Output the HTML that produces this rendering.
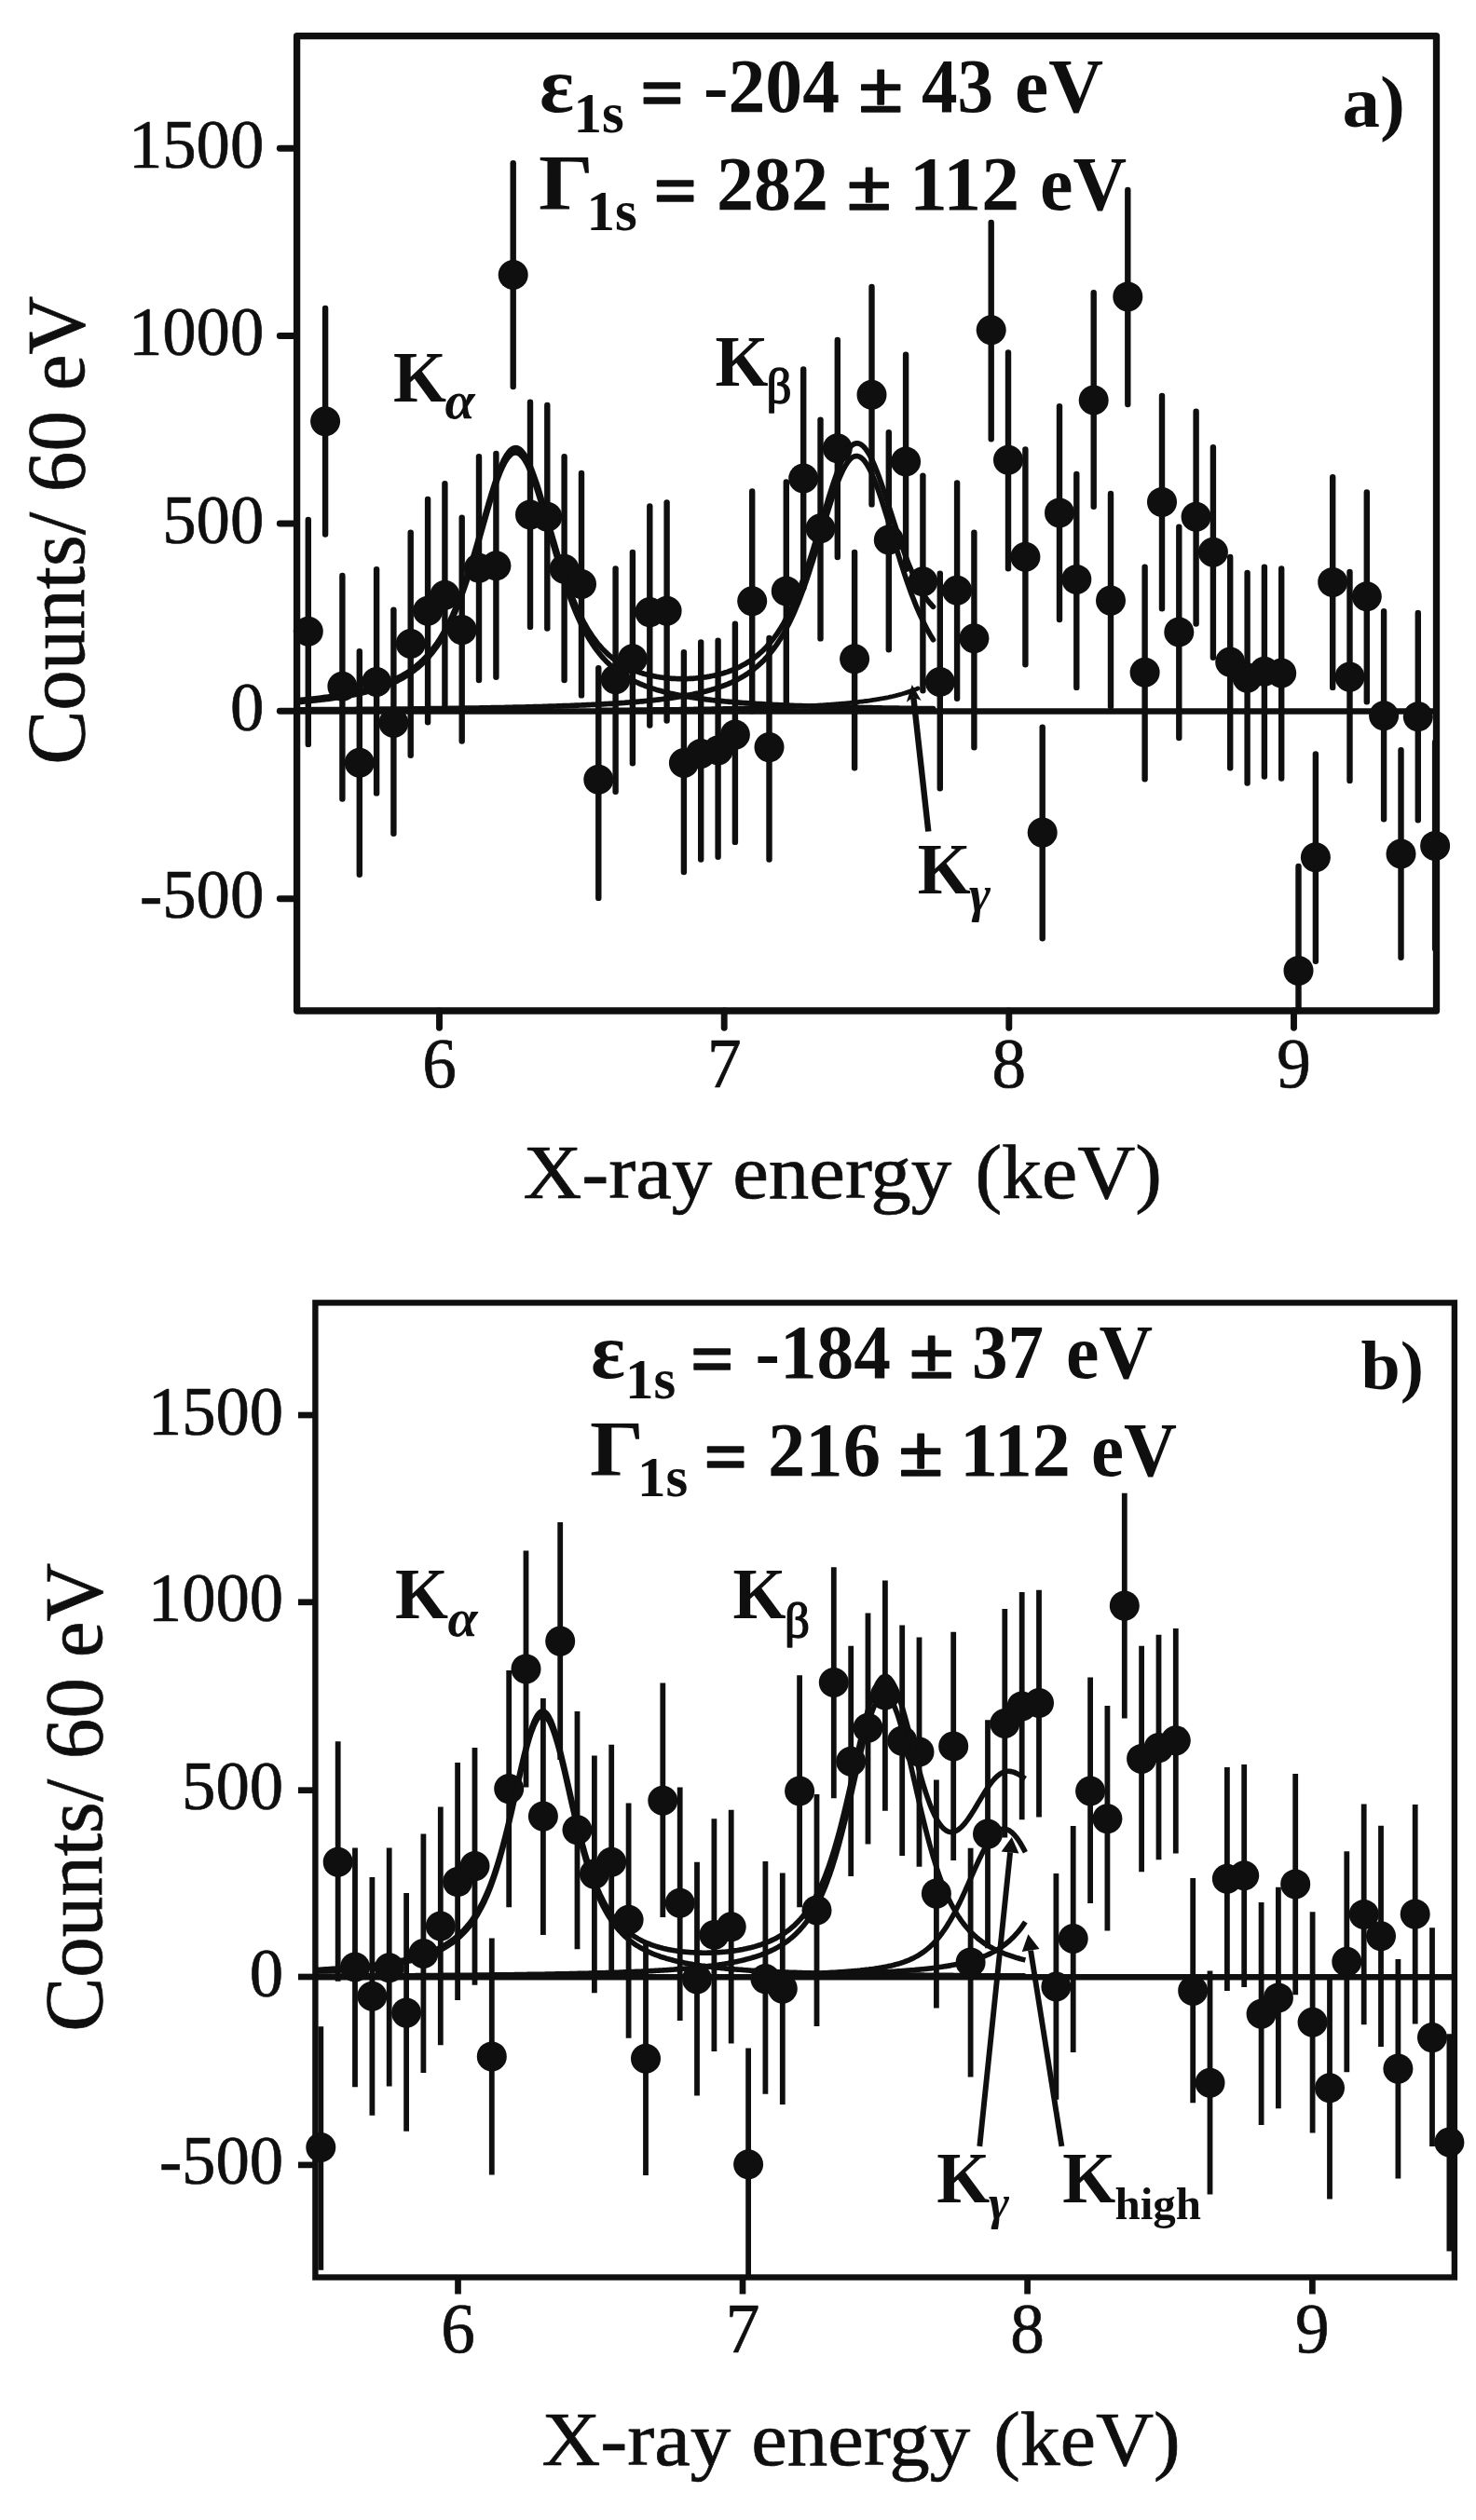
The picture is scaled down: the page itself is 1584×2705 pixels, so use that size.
<!DOCTYPE html>
<html lang="en"><head><meta charset="utf-8"><title>X-ray energy spectra</title>
<style>html,body{margin:0;padding:0;background:#fff}svg{display:block}</style></head>
<body><svg width="1584" height="2705" viewBox="0 0 1584 2705">
<rect width="1584" height="2705" fill="#fff"/>
<g fill="#0e0f0e" stroke="none" font-family="'Liberation Serif', 'DejaVu Serif', serif">
<rect x="318.6" y="38.7" width="1222.9" height="1046.3" fill="none" stroke="#0e0f0e" stroke-width="7.3" stroke-linejoin="round"/>
<rect x="338.4" y="1398.4" width="1222.5" height="1046.1" fill="none" stroke="#0e0f0e" stroke-width="6.4" stroke-linejoin="miter"/>
<g stroke="#0e0f0e" stroke-width="6.9" stroke-linecap="round">
<line x1="300.3" y1="159.2" x2="318" y2="159.2"/>
<line x1="300.3" y1="360.5" x2="318" y2="360.5"/>
<line x1="300.3" y1="562.0" x2="318" y2="562.0"/>
<line x1="300.3" y1="763.3" x2="318" y2="763.3"/>
<line x1="300.3" y1="964.8" x2="318" y2="964.8"/>
<line x1="471.5" y1="1085" x2="471.5" y2="1103.2"/>
<line x1="777.2" y1="1085" x2="777.2" y2="1103.2"/>
<line x1="1082.8" y1="1085" x2="1082.8" y2="1103.2"/>
<line x1="1388.5" y1="1085" x2="1388.5" y2="1103.2"/>
</g>
<line x1="319" y1="763.4" x2="1541" y2="763.4" stroke="#0e0f0e" stroke-width="6.5"/>
<g stroke="#0e0f0e" stroke-width="6.4" stroke-linecap="round" fill="none">
<line x1="330.8" y1="558.0" x2="330.8" y2="798.9"/>
<line x1="349.1" y1="331.0" x2="349.1" y2="573.6"/>
<line x1="367.4" y1="618.0" x2="367.4" y2="857.5"/>
<line x1="385.8" y1="699.3" x2="385.8" y2="938.8"/>
<line x1="404.1" y1="611.2" x2="404.1" y2="851.4"/>
<line x1="422.4" y1="654.6" x2="422.4" y2="894.8"/>
<line x1="440.7" y1="571.6" x2="440.7" y2="810.8"/>
<line x1="459.1" y1="536.0" x2="459.1" y2="775.2"/>
<line x1="477.4" y1="519.1" x2="477.4" y2="758.6"/>
<line x1="495.7" y1="555.6" x2="495.7" y2="795.5"/>
<line x1="514.0" y1="490.3" x2="514.0" y2="730.1"/>
<line x1="532.4" y1="486.9" x2="532.4" y2="726.7"/>
<line x1="550.7" y1="175.2" x2="550.7" y2="415.1"/>
<line x1="569.0" y1="431.7" x2="569.0" y2="672.9"/>
<line x1="587.3" y1="435.0" x2="587.3" y2="674.6"/>
<line x1="605.6" y1="490.3" x2="605.6" y2="730.1"/>
<line x1="624.0" y1="507.9" x2="624.0" y2="746.4"/>
<line x1="642.3" y1="717.2" x2="642.3" y2="963.9"/>
<line x1="660.6" y1="610.5" x2="660.6" y2="849.7"/>
<line x1="678.9" y1="592.9" x2="678.9" y2="819.2"/>
<line x1="697.3" y1="543.4" x2="697.3" y2="778.6"/>
<line x1="715.6" y1="539.4" x2="715.6" y2="773.5"/>
<line x1="733.9" y1="700.3" x2="733.9" y2="936.1"/>
<line x1="752.2" y1="689.4" x2="752.2" y2="922.5"/>
<line x1="770.6" y1="687.8" x2="770.6" y2="919.8"/>
<line x1="788.9" y1="669.8" x2="788.9" y2="903.9"/>
<line x1="807.2" y1="527.5" x2="807.2" y2="763.3"/>
<line x1="825.5" y1="685.0" x2="825.5" y2="922.5"/>
<line x1="843.8" y1="517.4" x2="843.8" y2="753.2"/>
<line x1="862.2" y1="396.4" x2="862.2" y2="631.2"/>
<line x1="880.5" y1="450.6" x2="880.5" y2="685.4"/>
<line x1="898.8" y1="364.9" x2="898.8" y2="598.0"/>
<line x1="917.1" y1="592.9" x2="917.1" y2="824.3"/>
<line x1="935.5" y1="308.0" x2="935.5" y2="541.4"/>
<line x1="953.8" y1="464.2" x2="953.8" y2="697.3"/>
<line x1="972.1" y1="380.8" x2="972.1" y2="610.9"/>
<line x1="990.4" y1="510.6" x2="990.4" y2="741.3"/>
<line x1="1008.8" y1="615.6" x2="1008.8" y2="846.3"/>
<line x1="1027.1" y1="518.4" x2="1027.1" y2="749.8"/>
<line x1="1045.4" y1="571.6" x2="1045.4" y2="802.3"/>
<line x1="1063.7" y1="238.9" x2="1063.7" y2="471.3"/>
<line x1="1082.0" y1="378.5" x2="1082.0" y2="610.2"/>
<line x1="1100.4" y1="482.5" x2="1100.4" y2="713.2"/>
<line x1="1118.7" y1="780.6" x2="1118.7" y2="1007.2"/>
<line x1="1137.0" y1="436.1" x2="1137.0" y2="665.1"/>
<line x1="1155.3" y1="508.9" x2="1155.3" y2="737.9"/>
<line x1="1173.7" y1="314.1" x2="1173.7" y2="543.8"/>
<line x1="1192.0" y1="529.9" x2="1192.0" y2="758.2"/>
<line x1="1210.3" y1="204.0" x2="1210.3" y2="434.1"/>
<line x1="1228.6" y1="608.8" x2="1228.6" y2="836.2"/>
<line x1="1247.0" y1="424.9" x2="1247.0" y2="653.2"/>
<line x1="1265.3" y1="565.8" x2="1265.3" y2="792.1"/>
<line x1="1283.6" y1="441.8" x2="1283.6" y2="669.5"/>
<line x1="1301.9" y1="480.1" x2="1301.9" y2="705.7"/>
<line x1="1320.2" y1="598.0" x2="1320.2" y2="824.3"/>
<line x1="1338.6" y1="614.9" x2="1338.6" y2="840.6"/>
<line x1="1356.9" y1="608.8" x2="1356.9" y2="833.5"/>
<line x1="1375.2" y1="610.5" x2="1375.2" y2="835.5"/>
<line x1="1393.5" y1="930.0" x2="1393.5" y2="1085.0"/>
<line x1="1411.9" y1="809.4" x2="1411.9" y2="1031.8"/>
<line x1="1430.2" y1="512.3" x2="1430.2" y2="737.9"/>
<line x1="1448.5" y1="613.9" x2="1448.5" y2="837.9"/>
<line x1="1466.8" y1="528.5" x2="1466.8" y2="753.2"/>
<line x1="1485.1" y1="656.2" x2="1485.1" y2="879.2"/>
<line x1="1503.5" y1="805.3" x2="1503.5" y2="1027.7"/>
<line x1="1521.8" y1="657.9" x2="1521.8" y2="880.2"/>
<line x1="1540.1" y1="796.8" x2="1540.1" y2="1018.3"/>
</g>
<circle cx="330.8" cy="677.8" r="16"/>
<circle cx="349.1" cy="452.2" r="16"/>
<circle cx="367.4" cy="736.7" r="16"/>
<circle cx="385.8" cy="818.7" r="16"/>
<circle cx="404.1" cy="732.0" r="16"/>
<circle cx="422.4" cy="776.0" r="16"/>
<circle cx="440.7" cy="691.0" r="16"/>
<circle cx="459.1" cy="655.8" r="16"/>
<circle cx="477.4" cy="638.8" r="16"/>
<circle cx="495.7" cy="676.1" r="16"/>
<circle cx="514.0" cy="609.7" r="16"/>
<circle cx="532.4" cy="607.3" r="16"/>
<circle cx="550.7" cy="295.0" r="16"/>
<circle cx="569.0" cy="552.4" r="16"/>
<circle cx="587.3" cy="554.8" r="16"/>
<circle cx="605.6" cy="610.7" r="16"/>
<circle cx="624.0" cy="627.0" r="16"/>
<circle cx="642.3" cy="836.7" r="16"/>
<circle cx="660.6" cy="729.3" r="16"/>
<circle cx="678.9" cy="707.2" r="16"/>
<circle cx="697.3" cy="657.1" r="16"/>
<circle cx="715.6" cy="655.8" r="16"/>
<circle cx="733.9" cy="819.0" r="16"/>
<circle cx="752.2" cy="808.9" r="16"/>
<circle cx="770.6" cy="805.5" r="16"/>
<circle cx="788.9" cy="788.6" r="16"/>
<circle cx="807.2" cy="645.3" r="16"/>
<circle cx="825.5" cy="802.1" r="16"/>
<circle cx="843.8" cy="634.4" r="16"/>
<circle cx="862.2" cy="513.5" r="16"/>
<circle cx="880.5" cy="567.3" r="16"/>
<circle cx="898.8" cy="481.3" r="16"/>
<circle cx="917.1" cy="707.2" r="16"/>
<circle cx="935.5" cy="423.7" r="16"/>
<circle cx="953.8" cy="579.5" r="16"/>
<circle cx="972.1" cy="495.5" r="16"/>
<circle cx="990.4" cy="624.3" r="16"/>
<circle cx="1008.8" cy="732.0" r="16"/>
<circle cx="1027.1" cy="633.7" r="16"/>
<circle cx="1045.4" cy="685.2" r="16"/>
<circle cx="1063.7" cy="354.3" r="16"/>
<circle cx="1082.0" cy="493.8" r="16"/>
<circle cx="1100.4" cy="597.8" r="16"/>
<circle cx="1118.7" cy="893.6" r="16"/>
<circle cx="1137.0" cy="550.4" r="16"/>
<circle cx="1155.3" cy="621.9" r="16"/>
<circle cx="1173.7" cy="429.5" r="16"/>
<circle cx="1192.0" cy="644.6" r="16"/>
<circle cx="1210.3" cy="318.4" r="16"/>
<circle cx="1228.6" cy="721.8" r="16"/>
<circle cx="1247.0" cy="538.9" r="16"/>
<circle cx="1265.3" cy="678.5" r="16"/>
<circle cx="1283.6" cy="554.8" r="16"/>
<circle cx="1301.9" cy="592.8" r="16"/>
<circle cx="1320.2" cy="710.6" r="16"/>
<circle cx="1338.6" cy="727.6" r="16"/>
<circle cx="1356.9" cy="720.8" r="16"/>
<circle cx="1375.2" cy="722.5" r="16"/>
<circle cx="1393.5" cy="1041.9" r="16"/>
<circle cx="1411.9" cy="920.3" r="16"/>
<circle cx="1430.2" cy="624.9" r="16"/>
<circle cx="1448.5" cy="726.6" r="16"/>
<circle cx="1466.8" cy="640.2" r="16"/>
<circle cx="1485.1" cy="768.2" r="16"/>
<circle cx="1503.5" cy="916.5" r="16"/>
<circle cx="1521.8" cy="769.2" r="16"/>
<circle cx="1540.1" cy="907.9" r="16"/>
<g stroke="#0e0f0e" stroke-width="6.7">
<line x1="320" y1="1519" x2="338" y2="1519"/>
<line x1="320" y1="1719.8" x2="338" y2="1719.8"/>
<line x1="320" y1="1921.7" x2="338" y2="1921.7"/>
<line x1="320" y1="2122" x2="338" y2="2122"/>
<line x1="320" y1="2323.9" x2="338" y2="2323.9"/>
<line x1="491.5" y1="2444" x2="491.5" y2="2462.5"/>
<line x1="797" y1="2444" x2="797" y2="2462.5"/>
<line x1="1102.6" y1="2444" x2="1102.6" y2="2462.5"/>
<line x1="1408.4" y1="2444" x2="1408.4" y2="2462.5"/>
</g>
<line x1="338" y1="2122.3" x2="1561" y2="2122.3" stroke="#0e0f0e" stroke-width="6.6"/>
<g stroke="#0e0f0e" stroke-width="5.8" stroke-linecap="butt" fill="none">
<line x1="344.3" y1="2175.2" x2="344.3" y2="2436.8"/>
<line x1="362.7" y1="1869.3" x2="362.7" y2="2126.8"/>
<line x1="381.0" y1="1983.5" x2="381.0" y2="2240.2"/>
<line x1="399.4" y1="2015.0" x2="399.4" y2="2270.7"/>
<line x1="417.7" y1="1983.5" x2="417.7" y2="2239.6"/>
<line x1="436.1" y1="2031.9" x2="436.1" y2="2287.7"/>
<line x1="454.4" y1="1968.6" x2="454.4" y2="2225.0"/>
<line x1="472.8" y1="1939.4" x2="472.8" y2="2195.2"/>
<line x1="491.1" y1="1892.0" x2="491.1" y2="2147.1"/>
<line x1="509.5" y1="1876.1" x2="509.5" y2="2130.8"/>
<line x1="527.8" y1="2080.4" x2="527.8" y2="2334.4"/>
<line x1="546.2" y1="1793.1" x2="546.2" y2="2047.2"/>
<line x1="564.5" y1="1664.4" x2="564.5" y2="1918.4"/>
<line x1="582.9" y1="1822.9" x2="582.9" y2="2077.0"/>
<line x1="601.2" y1="1633.9" x2="601.2" y2="1889.0"/>
<line x1="619.5" y1="1837.1" x2="619.5" y2="2092.2"/>
<line x1="637.9" y1="1884.6" x2="637.9" y2="2139.3"/>
<line x1="656.2" y1="1872.7" x2="656.2" y2="2125.1"/>
<line x1="674.6" y1="1935.4" x2="674.6" y2="2187.7"/>
<line x1="693.0" y1="2084.4" x2="693.0" y2="2335.1"/>
<line x1="711.3" y1="1806.6" x2="711.3" y2="2058.0"/>
<line x1="729.7" y1="1918.4" x2="729.7" y2="2169.1"/>
<line x1="748.0" y1="1998.7" x2="748.0" y2="2249.4"/>
<line x1="766.4" y1="1952.3" x2="766.4" y2="2202.0"/>
<line x1="784.7" y1="1942.8" x2="784.7" y2="2193.5"/>
<line x1="803.1" y1="2198.6" x2="803.1" y2="2444.2"/>
<line x1="821.4" y1="1998.0" x2="821.4" y2="2247.7"/>
<line x1="839.8" y1="2010.6" x2="839.8" y2="2258.9"/>
<line x1="858.1" y1="1798.2" x2="858.1" y2="2047.2"/>
<line x1="876.5" y1="1925.9" x2="876.5" y2="2174.9"/>
<line x1="894.8" y1="1682.3" x2="894.8" y2="1930.3"/>
<line x1="913.2" y1="1766.7" x2="913.2" y2="2014.0"/>
<line x1="931.5" y1="1731.4" x2="931.5" y2="1979.4"/>
<line x1="949.9" y1="1696.5" x2="949.9" y2="1943.8"/>
<line x1="968.2" y1="1744.6" x2="968.2" y2="1991.9"/>
<line x1="986.5" y1="1757.5" x2="986.5" y2="2003.8"/>
<line x1="1004.9" y1="1910.6" x2="1004.9" y2="2155.6"/>
<line x1="1023.2" y1="1751.8" x2="1023.2" y2="1997.0"/>
<line x1="1041.6" y1="1983.8" x2="1041.6" y2="2229.4"/>
<line x1="1060.0" y1="1846.3" x2="1060.0" y2="2091.2"/>
<line x1="1078.3" y1="1727.0" x2="1078.3" y2="1972.6"/>
<line x1="1096.7" y1="1709.1" x2="1096.7" y2="1953.3"/>
<line x1="1115.0" y1="1706.7" x2="1115.0" y2="1950.6"/>
<line x1="1133.4" y1="2010.9" x2="1133.4" y2="2253.8"/>
<line x1="1151.7" y1="1960.1" x2="1151.7" y2="2203.0"/>
<line x1="1170.1" y1="1800.5" x2="1170.1" y2="2043.1"/>
<line x1="1188.4" y1="1831.0" x2="1188.4" y2="2072.6"/>
<line x1="1206.8" y1="1602.7" x2="1206.8" y2="1844.6"/>
<line x1="1225.1" y1="1766.7" x2="1225.1" y2="2009.2"/>
<line x1="1243.5" y1="1754.8" x2="1243.5" y2="1996.3"/>
<line x1="1261.8" y1="1748.0" x2="1261.8" y2="1989.6"/>
<line x1="1280.2" y1="2016.0" x2="1280.2" y2="2257.2"/>
<line x1="1298.5" y1="2115.6" x2="1298.5" y2="2355.4"/>
<line x1="1316.9" y1="1897.1" x2="1316.9" y2="2136.9"/>
<line x1="1335.2" y1="1894.0" x2="1335.2" y2="2132.9"/>
<line x1="1353.6" y1="2042.1" x2="1353.6" y2="2280.9"/>
<line x1="1371.9" y1="2025.8" x2="1371.9" y2="2263.3"/>
<line x1="1390.2" y1="1903.9" x2="1390.2" y2="2141.3"/>
<line x1="1408.6" y1="2052.2" x2="1408.6" y2="2289.4"/>
<line x1="1427.0" y1="2123.4" x2="1427.0" y2="2360.5"/>
<line x1="1445.3" y1="1987.2" x2="1445.3" y2="2224.3"/>
<line x1="1463.7" y1="1936.4" x2="1463.7" y2="2173.2"/>
<line x1="1482.0" y1="1959.8" x2="1482.0" y2="2196.9"/>
<line x1="1500.4" y1="2103.0" x2="1500.4" y2="2338.5"/>
<line x1="1518.7" y1="1937.1" x2="1518.7" y2="2172.5"/>
<line x1="1537.0" y1="2069.2" x2="1537.0" y2="2303.9"/>
<line x1="1555.4" y1="2183.3" x2="1555.4" y2="2416.6"/>
</g>
<circle cx="344.3" cy="2305.0" r="16"/>
<circle cx="362.7" cy="1998.7" r="16"/>
<circle cx="381.0" cy="2111.5" r="16"/>
<circle cx="399.4" cy="2142.7" r="16"/>
<circle cx="417.7" cy="2112.2" r="16"/>
<circle cx="436.1" cy="2160.6" r="16"/>
<circle cx="454.4" cy="2097.0" r="16"/>
<circle cx="472.8" cy="2067.5" r="16"/>
<circle cx="491.1" cy="2020.1" r="16"/>
<circle cx="509.5" cy="2003.1" r="16"/>
<circle cx="527.8" cy="2207.4" r="16"/>
<circle cx="546.2" cy="1920.1" r="16"/>
<circle cx="564.5" cy="1791.4" r="16"/>
<circle cx="582.9" cy="1949.6" r="16"/>
<circle cx="601.2" cy="1761.6" r="16"/>
<circle cx="619.5" cy="1964.2" r="16"/>
<circle cx="637.9" cy="2011.6" r="16"/>
<circle cx="656.2" cy="1998.7" r="16"/>
<circle cx="674.6" cy="2060.7" r="16"/>
<circle cx="693.0" cy="2209.8" r="16"/>
<circle cx="711.3" cy="1932.7" r="16"/>
<circle cx="729.7" cy="2042.8" r="16"/>
<circle cx="748.0" cy="2124.4" r="16"/>
<circle cx="766.4" cy="2077.0" r="16"/>
<circle cx="784.7" cy="2068.2" r="16"/>
<circle cx="803.1" cy="2323.2" r="16"/>
<circle cx="821.4" cy="2124.1" r="16"/>
<circle cx="839.8" cy="2134.6" r="16"/>
<circle cx="858.1" cy="1922.5" r="16"/>
<circle cx="876.5" cy="2050.5" r="16"/>
<circle cx="894.8" cy="1806.0" r="16"/>
<circle cx="913.2" cy="1890.7" r="16"/>
<circle cx="931.5" cy="1854.7" r="16"/>
<circle cx="949.9" cy="1819.5" r="16"/>
<circle cx="968.2" cy="1868.6" r="16"/>
<circle cx="986.5" cy="1880.5" r="16"/>
<circle cx="1004.9" cy="2032.6" r="16"/>
<circle cx="1023.2" cy="1874.4" r="16"/>
<circle cx="1041.6" cy="2106.4" r="16"/>
<circle cx="1060.0" cy="1968.6" r="16"/>
<circle cx="1078.3" cy="1850.0" r="16"/>
<circle cx="1096.7" cy="1831.4" r="16"/>
<circle cx="1115.0" cy="1828.0" r="16"/>
<circle cx="1133.4" cy="2132.5" r="16"/>
<circle cx="1151.7" cy="2081.0" r="16"/>
<circle cx="1170.1" cy="1922.5" r="16"/>
<circle cx="1188.4" cy="1952.3" r="16"/>
<circle cx="1206.8" cy="1723.6" r="16"/>
<circle cx="1225.1" cy="1887.9" r="16"/>
<circle cx="1243.5" cy="1876.1" r="16"/>
<circle cx="1261.8" cy="1868.3" r="16"/>
<circle cx="1280.2" cy="2136.9" r="16"/>
<circle cx="1298.5" cy="2235.8" r="16"/>
<circle cx="1316.9" cy="2016.7" r="16"/>
<circle cx="1335.2" cy="2013.3" r="16"/>
<circle cx="1353.6" cy="2161.7" r="16"/>
<circle cx="1371.9" cy="2144.4" r="16"/>
<circle cx="1390.2" cy="2022.4" r="16"/>
<circle cx="1408.6" cy="2170.8" r="16"/>
<circle cx="1427.0" cy="2241.3" r="16"/>
<circle cx="1445.3" cy="2105.8" r="16"/>
<circle cx="1463.7" cy="2054.9" r="16"/>
<circle cx="1482.0" cy="2078.3" r="16"/>
<circle cx="1500.4" cy="2220.6" r="16"/>
<circle cx="1518.7" cy="2054.6" r="16"/>
<circle cx="1537.0" cy="2187.1" r="16"/>
<circle cx="1555.4" cy="2299.5" r="16"/>
<g stroke="#0e0f0e" stroke-width="5.7" fill="none" stroke-linecap="round" stroke-linejoin="round">
<path d="M319.0,751.7 L320.5,751.5 L322.0,751.4 L323.5,751.3 L325.0,751.1 L326.5,751.0 L328.0,750.8 L329.5,750.7 L331.0,750.5 L332.5,750.4 L334.0,750.2 L335.5,750.0 L337.0,749.9 L338.5,749.7 L340.0,749.5 L341.5,749.4 L343.0,749.2 L344.5,749.0 L346.0,748.8 L347.5,748.6 L349.0,748.4 L350.5,748.2 L352.0,748.0 L353.5,747.8 L355.0,747.6 L356.5,747.4 L358.0,747.2 L359.5,746.9 L361.0,746.7 L362.5,746.5 L364.0,746.2 L365.5,746.0 L367.0,745.7 L368.5,745.5 L370.0,745.2 L371.5,744.9 L373.0,744.6 L374.5,744.4 L376.0,744.1 L377.5,743.8 L379.0,743.5 L380.5,743.2 L382.0,742.8 L383.5,742.5 L385.0,742.2 L386.5,741.8 L388.0,741.5 L389.5,741.1 L391.0,740.7 L392.5,740.3 L394.0,739.9 L395.5,739.5 L397.0,739.1 L398.5,738.7 L400.0,738.2 L401.5,737.8 L403.0,737.3 L404.5,736.8 L406.0,736.3 L407.5,735.8 L409.0,735.3 L410.5,734.8 L412.0,734.2 L413.5,733.7 L415.0,733.1 L416.5,732.5 L418.0,731.8 L419.5,731.2 L421.0,730.5 L422.5,729.8 L424.0,729.1 L425.5,728.4 L427.0,727.6 L428.5,726.8 L430.0,726.0 L431.5,725.2 L433.0,724.3 L434.5,723.4 L436.0,722.5 L437.5,721.5 L439.0,720.5 L440.5,719.5 L442.0,718.4 L443.5,717.3 L445.0,716.2 L446.5,715.0 L448.0,713.7 L449.5,712.4 L451.0,711.1 L452.5,709.7 L454.0,708.3 L455.5,706.8 L457.0,705.2 L458.5,703.6 L460.0,701.9 L461.5,700.1 L463.0,698.3 L464.5,696.4 L466.0,694.5 L467.5,692.4 L469.0,690.3 L470.5,688.0 L472.0,685.7 L473.5,683.3 L475.0,680.8 L476.5,678.2 L478.0,675.5 L479.5,672.7 L481.0,669.8 L482.5,666.8 L484.0,663.6 L485.5,660.4 L487.0,657.0 L488.5,653.5 L490.0,649.9 L491.5,646.1 L493.0,642.3 L494.5,638.3 L496.0,634.1 L497.5,629.9 L499.0,625.5 L500.5,621.1 L502.0,616.5 L503.5,611.7 L505.0,606.9 L506.5,602.0 L508.0,597.0 L509.5,591.9 L511.0,586.8 L512.5,581.6 L514.0,576.3 L515.5,571.0 L517.0,565.7 L518.5,560.4 L520.0,555.1 L521.5,549.8 L523.0,544.6 L524.5,539.4 L526.0,534.3 L527.5,529.4 L529.0,524.5 L530.5,519.9 L532.0,515.3 L533.5,511.0 L535.0,506.9 L536.5,503.1 L538.0,499.4 L539.5,496.1 L541.0,493.0 L542.5,490.3 L544.0,487.9 L545.5,485.8 L547.0,484.0 L548.5,482.7 L550.0,481.6 L551.5,481.0 L553.0,480.7 L554.5,480.8 L556.0,481.3 L557.5,482.1 L559.0,483.3 L560.5,484.9 L562.0,486.8 L563.5,489.1 L565.0,491.7 L566.5,494.5 L568.0,497.7 L569.5,501.2 L571.0,504.9 L572.5,508.9 L574.0,513.1 L575.5,517.4 L577.0,522.0 L578.5,526.7 L580.0,531.6 L581.5,536.5 L583.0,541.6 L584.5,546.7 L586.0,551.9 L587.5,557.1 L589.0,562.3 L590.5,567.6 L592.0,572.8 L593.5,578.0 L595.0,583.1 L596.5,588.2 L598.0,593.2 L599.5,598.2 L601.0,603.0 L602.5,607.8 L604.0,612.4 L605.5,616.9 L607.0,621.4 L608.5,625.7 L610.0,629.9 L611.5,633.9 L613.0,637.9 L614.5,641.7 L616.0,645.4 L617.5,648.9 L619.0,652.4 L620.5,655.7 L622.0,658.9 L623.5,662.0 L625.0,664.9 L626.5,667.8 L628.0,670.5 L629.5,673.1 L631.0,675.7 L632.5,678.1 L634.0,680.4 L635.5,682.6 L637.0,684.8 L638.5,686.8 L640.0,688.8 L641.5,690.7 L643.0,692.5 L644.5,694.2 L646.0,695.9 L647.5,697.4 L649.0,699.0 L650.5,700.4 L652.0,701.8 L653.5,703.2 L655.0,704.4 L656.5,705.7 L658.0,706.9 L659.5,708.0 L661.0,709.1 L662.5,710.1 L664.0,711.1 L665.5,712.0 L667.0,713.0 L668.5,713.8 L670.0,714.7 L671.5,715.5 L673.0,716.2 L674.5,717.0 L676.0,717.7 L677.5,718.3 L679.0,719.0 L680.5,719.6 L682.0,720.2 L683.5,720.7 L685.0,721.3 L686.5,721.8 L688.0,722.3 L689.5,722.7 L691.0,723.2 L692.5,723.6 L694.0,724.0 L695.5,724.4 L697.0,724.8 L698.5,725.1 L700.0,725.4 L701.5,725.7 L703.0,726.0 L704.5,726.3 L706.0,726.5 L707.5,726.8 L709.0,727.0 L710.5,727.2 L712.0,727.4 L713.5,727.6 L715.0,727.8 L716.5,727.9 L718.0,728.0 L719.5,728.2 L721.0,728.3 L722.5,728.4 L724.0,728.4 L725.5,728.5 L727.0,728.6 L728.5,728.6 L730.0,728.6 L731.5,728.6 L733.0,728.6 L734.5,728.6 L736.0,728.6 L737.5,728.6 L739.0,728.5 L740.5,728.4 L742.0,728.4 L743.5,728.3 L745.0,728.2 L746.5,728.0 L748.0,727.9 L749.5,727.8 L751.0,727.6 L752.5,727.4 L754.0,727.2 L755.5,727.0 L757.0,726.8 L758.5,726.6 L760.0,726.3 L761.5,726.1 L763.0,725.8 L764.5,725.5 L766.0,725.2 L767.5,724.9 L769.0,724.5 L770.5,724.1 L772.0,723.8 L773.5,723.4 L775.0,722.9 L776.5,722.5 L778.0,722.0 L779.5,721.6 L781.0,721.1 L782.5,720.5 L784.0,720.0 L785.5,719.4 L787.0,718.8 L788.5,718.2 L790.0,717.5 L791.5,716.9 L793.0,716.2 L794.5,715.4 L796.0,714.6 L797.5,713.8 L799.0,713.0 L800.5,712.2 L802.0,711.2 L803.5,710.3 L805.0,709.3 L806.5,708.3 L808.0,707.2 L809.5,706.1 L811.0,705.0 L812.5,703.8 L814.0,702.5 L815.5,701.2 L817.0,699.9 L818.5,698.5 L820.0,697.0 L821.5,695.5 L823.0,693.9 L824.5,692.2 L826.0,690.5 L827.5,688.7 L829.0,686.8 L830.5,684.9 L832.0,682.9 L833.5,680.8 L835.0,678.6 L836.5,676.3 L838.0,673.9 L839.5,671.4 L841.0,668.9 L842.5,666.2 L844.0,663.5 L845.5,660.6 L847.0,657.6 L848.5,654.5 L850.0,651.3 L851.5,648.0 L853.0,644.6 L854.5,641.0 L856.0,637.4 L857.5,633.6 L859.0,629.7 L860.5,625.8 L862.0,621.6 L863.5,617.4 L865.0,613.1 L866.5,608.7 L868.0,604.2 L869.5,599.6 L871.0,594.9 L872.5,590.1 L874.0,585.2 L875.5,580.3 L877.0,575.4 L878.5,570.4 L880.0,565.3 L881.5,560.3 L883.0,555.2 L884.5,550.2 L886.0,545.2 L887.5,540.2 L889.0,535.3 L890.5,530.5 L892.0,525.8 L893.5,521.2 L895.0,516.7 L896.5,512.4 L898.0,508.2 L899.5,504.2 L901.0,500.4 L902.5,496.8 L904.0,493.5 L905.5,490.4 L907.0,487.6 L908.5,485.1 L910.0,482.8 L911.5,480.9 L913.0,479.2 L914.5,477.9 L916.0,476.9 L917.5,476.2 L919.0,475.9 L920.5,475.9 L922.0,476.2 L923.5,476.8 L925.0,477.8 L926.5,479.1 L928.0,480.7 L929.5,482.6 L931.0,484.8 L932.5,487.2 L934.0,490.0 L935.5,493.0 L937.0,496.2 L938.5,499.6 L940.0,503.3 L941.5,507.1 L943.0,511.1 L944.5,515.2 L946.0,519.5 L947.5,523.9 L949.0,528.4 L950.5,532.9 L952.0,537.5 L953.5,542.2 L955.0,546.9 L956.5,551.5 L958.0,556.2 L959.5,560.9 L961.0,565.5 L962.5,570.1 L964.0,574.6 L965.5,579.1 L967.0,583.5 L968.5,587.7 L970.0,591.9 L971.5,596.0 L973.0,600.0 L974.5,603.9 L976.0,607.6 L977.5,611.2 L979.0,614.7 L980.5,618.1 L982.0,621.3 L983.5,624.4 L985.0,627.4 L986.5,630.2 L988.0,632.9 L989.5,635.5 L991.0,637.9 L992.5,640.2 L994.0,642.3 L995.5,644.4 L997.0,646.3 L998.5,648.0 L1000.0,649.7 L1001.5,651.2"/>
<path d="M319.0,753.7 L320.5,753.6 L322.0,753.4 L323.5,753.3 L325.0,753.2 L326.5,753.0 L328.0,752.9 L329.5,752.8 L331.0,752.6 L332.5,752.5 L334.0,752.3 L335.5,752.2 L337.0,752.0 L338.5,751.9 L340.0,751.7 L341.5,751.5 L343.0,751.4 L344.5,751.2 L346.0,751.0 L347.5,750.8 L349.0,750.7 L350.5,750.5 L352.0,750.3 L353.5,750.1 L355.0,749.9 L356.5,749.7 L358.0,749.5 L359.5,749.2 L361.0,749.0 L362.5,748.8 L364.0,748.6 L365.5,748.3 L367.0,748.1 L368.5,747.8 L370.0,747.6 L371.5,747.3 L373.0,747.1 L374.5,746.8 L376.0,746.5 L377.5,746.2 L379.0,745.9 L380.5,745.6 L382.0,745.3 L383.5,745.0 L385.0,744.7 L386.5,744.4 L388.0,744.0 L389.5,743.7 L391.0,743.3 L392.5,742.9 L394.0,742.5 L395.5,742.2 L397.0,741.8 L398.5,741.3 L400.0,740.9 L401.5,740.5 L403.0,740.0 L404.5,739.6 L406.0,739.1 L407.5,738.6 L409.0,738.1 L410.5,737.6 L412.0,737.0 L413.5,736.5 L415.0,735.9 L416.5,735.3 L418.0,734.7 L419.5,734.0 L421.0,733.4 L422.5,732.7 L424.0,732.0 L425.5,731.3 L427.0,730.6 L428.5,729.8 L430.0,729.0 L431.5,728.2 L433.0,727.3 L434.5,726.5 L436.0,725.5 L437.5,724.6 L439.0,723.6 L440.5,722.6 L442.0,721.5 L443.5,720.5 L445.0,719.3 L446.5,718.1 L448.0,716.9 L449.5,715.7 L451.0,714.3 L452.5,713.0 L454.0,711.5 L455.5,710.1 L457.0,708.5 L458.5,706.9 L460.0,705.3 L461.5,703.5 L463.0,701.7 L464.5,699.9 L466.0,697.9 L467.5,695.9 L469.0,693.8 L470.5,691.6 L472.0,689.3 L473.5,686.9 L475.0,684.4 L476.5,681.8 L478.0,679.2 L479.5,676.4 L481.0,673.5 L482.5,670.5 L484.0,667.4 L485.5,664.1 L487.0,660.8 L488.5,657.3 L490.0,653.7 L491.5,650.0 L493.0,646.1 L494.5,642.2 L496.0,638.1 L497.5,633.9 L499.0,629.5 L500.5,625.1 L502.0,620.5 L503.5,615.8 L505.0,611.0 L506.5,606.1 L508.0,601.2 L509.5,596.1 L511.0,591.0 L512.5,585.8 L514.0,580.6 L515.5,575.3 L517.0,570.0 L518.5,564.7 L520.0,559.5 L521.5,554.2 L523.0,549.0 L524.5,543.9 L526.0,538.8 L527.5,533.9 L529.0,529.1 L530.5,524.5 L532.0,520.0 L533.5,515.7 L535.0,511.6 L536.5,507.8 L538.0,504.2 L539.5,500.9 L541.0,497.9 L542.5,495.2 L544.0,492.8 L545.5,490.8 L547.0,489.1 L548.5,487.7 L550.0,486.7 L551.5,486.1 L553.0,485.9 L554.5,486.0 L556.0,486.5 L557.5,487.4 L559.0,488.7 L560.5,490.3 L562.0,492.2 L563.5,494.5 L565.0,497.1 L566.5,500.1 L568.0,503.3 L569.5,506.8 L571.0,510.6 L572.5,514.6 L574.0,518.8 L575.5,523.3 L577.0,527.9 L578.5,532.6 L580.0,537.5 L581.5,542.5 L583.0,547.6 L584.5,552.8 L586.0,558.1 L587.5,563.3 L589.0,568.6 L590.5,573.9 L592.0,579.2 L593.5,584.4 L595.0,589.6 L596.5,594.8 L598.0,599.8 L599.5,604.8 L601.0,609.7 L602.5,614.5 L604.0,619.2 L605.5,623.8 L607.0,628.3 L608.5,632.7 L610.0,637.0 L611.5,641.1 L613.0,645.1 L614.5,649.0 L616.0,652.7 L617.5,656.4 L619.0,659.9 L620.5,663.3 L622.0,666.5 L623.5,669.7 L625.0,672.7 L626.5,675.6 L628.0,678.4 L629.5,681.1 L631.0,683.7 L632.5,686.2 L634.0,688.6 L635.5,691.0 L637.0,693.2 L638.5,695.3 L640.0,697.4 L641.5,699.3 L643.0,701.2 L644.5,703.1 L646.0,704.8 L647.5,706.5 L649.0,708.1 L650.5,709.7 L652.0,711.2 L653.5,712.6 L655.0,714.0 L656.5,715.3 L658.0,716.6 L659.5,717.8 L661.0,719.0 L662.5,720.2 L664.0,721.3 L665.5,722.3 L667.0,723.3 L668.5,724.3 L670.0,725.3 L671.5,726.2 L673.0,727.1 L674.5,728.0 L676.0,728.8 L677.5,729.6 L679.0,730.4 L680.5,731.1 L682.0,731.8 L683.5,732.5 L685.0,733.2 L686.5,733.9 L688.0,734.5 L689.5,735.1 L691.0,735.7 L692.5,736.3 L694.0,736.9 L695.5,737.4 L697.0,737.9 L698.5,738.4 L700.0,738.9 L701.5,739.4 L703.0,739.9 L704.5,740.4 L706.0,740.8 L707.5,741.2 L709.0,741.6 L710.5,742.0 L712.0,742.4 L713.5,742.8 L715.0,743.2 L716.5,743.6 L718.0,743.9 L719.5,744.3 L721.0,744.6 L722.5,744.9 L724.0,745.2 L725.5,745.6 L727.0,745.9 L728.5,746.2 L730.0,746.4 L731.5,746.7 L733.0,747.0 L734.5,747.3 L736.0,747.5 L737.5,747.8 L739.0,748.0 L740.5,748.3 L742.0,748.5 L743.5,748.7 L745.0,749.0 L746.5,749.2 L748.0,749.4 L749.5,749.6 L751.0,749.8 L752.5,750.0 L754.0,750.2 L755.5,750.4 L757.0,750.6 L758.5,750.8 L760.0,751.0 L761.5,751.1 L763.0,751.3 L764.5,751.5 L766.0,751.7 L767.5,751.8 L769.0,752.0 L770.5,752.1 L772.0,752.3 L773.5,752.4 L775.0,752.6 L776.5,752.7 L778.0,752.9 L779.5,753.0 L781.0,753.1 L782.5,753.3 L784.0,753.4 L785.5,753.5 L787.0,753.7 L788.5,753.8 L790.0,753.9 L791.5,754.0 L793.0,754.1 L794.5,754.3 L796.0,754.4 L797.5,754.5 L799.0,754.6 L800.5,754.7 L802.0,754.8 L803.5,754.9 L805.0,755.0 L806.5,755.1 L808.0,755.2 L809.5,755.3 L811.0,755.4 L812.5,755.5 L814.0,755.6 L815.5,755.7 L817.0,755.7 L818.5,755.8 L820.0,755.9 L821.5,756.0 L823.0,756.1 L824.5,756.2 L826.0,756.2 L827.5,756.3 L829.0,756.4 L830.5,756.5 L832.0,756.5 L833.5,756.6 L835.0,756.7 L836.5,756.8 L838.0,756.8 L839.5,756.9 L841.0,757.0 L842.5,757.0 L844.0,757.1 L845.5,757.2 L847.0,757.2 L848.5,757.3 L850.0,757.3 L851.5,757.4 L853.0,757.5 L854.5,757.5 L856.0,757.6 L857.5,757.6 L859.0,757.7 L860.5,757.7 L862.0,757.8 L863.5,757.9 L865.0,757.9 L866.5,758.0 L868.0,758.0 L869.5,758.1 L871.0,758.1 L872.5,758.2 L874.0,758.2 L875.5,758.3 L877.0,758.3 L878.5,758.4 L880.0,758.4 L881.5,758.4 L883.0,758.5 L884.5,758.5 L886.0,758.6 L887.5,758.6 L889.0,758.7 L890.5,758.7 L892.0,758.7 L893.5,758.8 L895.0,758.8 L896.5,758.9 L898.0,758.9 L899.5,758.9 L901.0,759.0 L902.5,759.0 L904.0,759.1 L905.5,759.1 L907.0,759.1 L908.5,759.2 L910.0,759.2 L911.5,759.2 L913.0,759.3 L914.5,759.3 L916.0,759.3 L917.5,759.4 L919.0,759.4 L920.5,759.4 L922.0,759.5 L923.5,759.5 L925.0,759.5 L926.5,759.6 L928.0,759.6 L929.5,759.6 L931.0,759.7 L932.5,759.7 L934.0,759.7 L935.5,759.7 L937.0,759.8 L938.5,759.8 L940.0,759.8 L941.5,759.9 L943.0,759.9 L944.5,759.9 L946.0,759.9 L947.5,760.0 L949.0,760.0 L950.5,760.0 L952.0,760.0 L953.5,760.1 L955.0,760.1 L956.5,760.1 L958.0,760.1 L959.5,760.2 L961.0,760.2 L962.5,760.2 L964.0,760.2 L965.5,760.3 L967.0,760.3 L968.5,760.3 L970.0,760.3 L971.5,760.3 L973.0,760.4 L974.5,760.4 L976.0,760.4 L977.5,760.4 L979.0,760.5 L980.5,760.5 L982.0,760.5 L983.5,760.5 L985.0,760.5 L986.5,760.6 L988.0,760.6 L989.5,760.6 L991.0,760.6 L992.5,760.6 L994.0,760.6 L995.5,760.7 L997.0,760.7 L998.5,760.7 L1000.0,760.7 L1001.5,760.7"/>
<path d="M319.0,761.8 L320.5,761.8 L322.0,761.8 L323.5,761.8 L325.0,761.8 L326.5,761.8 L328.0,761.8 L329.5,761.8 L331.0,761.8 L332.5,761.8 L334.0,761.8 L335.5,761.7 L337.0,761.7 L338.5,761.7 L340.0,761.7 L341.5,761.7 L343.0,761.7 L344.5,761.7 L346.0,761.7 L347.5,761.7 L349.0,761.7 L350.5,761.7 L352.0,761.7 L353.5,761.6 L355.0,761.6 L356.5,761.6 L358.0,761.6 L359.5,761.6 L361.0,761.6 L362.5,761.6 L364.0,761.6 L365.5,761.6 L367.0,761.6 L368.5,761.5 L370.0,761.5 L371.5,761.5 L373.0,761.5 L374.5,761.5 L376.0,761.5 L377.5,761.5 L379.0,761.5 L380.5,761.5 L382.0,761.4 L383.5,761.4 L385.0,761.4 L386.5,761.4 L388.0,761.4 L389.5,761.4 L391.0,761.4 L392.5,761.4 L394.0,761.4 L395.5,761.3 L397.0,761.3 L398.5,761.3 L400.0,761.3 L401.5,761.3 L403.0,761.3 L404.5,761.3 L406.0,761.3 L407.5,761.3 L409.0,761.2 L410.5,761.2 L412.0,761.2 L413.5,761.2 L415.0,761.2 L416.5,761.2 L418.0,761.2 L419.5,761.1 L421.0,761.1 L422.5,761.1 L424.0,761.1 L425.5,761.1 L427.0,761.1 L428.5,761.1 L430.0,761.0 L431.5,761.0 L433.0,761.0 L434.5,761.0 L436.0,761.0 L437.5,761.0 L439.0,761.0 L440.5,760.9 L442.0,760.9 L443.5,760.9 L445.0,760.9 L446.5,760.9 L448.0,760.9 L449.5,760.8 L451.0,760.8 L452.5,760.8 L454.0,760.8 L455.5,760.8 L457.0,760.8 L458.5,760.7 L460.0,760.7 L461.5,760.7 L463.0,760.7 L464.5,760.7 L466.0,760.7 L467.5,760.6 L469.0,760.6 L470.5,760.6 L472.0,760.6 L473.5,760.6 L475.0,760.5 L476.5,760.5 L478.0,760.5 L479.5,760.5 L481.0,760.5 L482.5,760.4 L484.0,760.4 L485.5,760.4 L487.0,760.4 L488.5,760.4 L490.0,760.3 L491.5,760.3 L493.0,760.3 L494.5,760.3 L496.0,760.3 L497.5,760.2 L499.0,760.2 L500.5,760.2 L502.0,760.2 L503.5,760.1 L505.0,760.1 L506.5,760.1 L508.0,760.1 L509.5,760.0 L511.0,760.0 L512.5,760.0 L514.0,760.0 L515.5,759.9 L517.0,759.9 L518.5,759.9 L520.0,759.9 L521.5,759.8 L523.0,759.8 L524.5,759.8 L526.0,759.8 L527.5,759.7 L529.0,759.7 L530.5,759.7 L532.0,759.6 L533.5,759.6 L535.0,759.6 L536.5,759.6 L538.0,759.5 L539.5,759.5 L541.0,759.5 L542.5,759.4 L544.0,759.4 L545.5,759.4 L547.0,759.3 L548.5,759.3 L550.0,759.3 L551.5,759.2 L553.0,759.2 L554.5,759.2 L556.0,759.1 L557.5,759.1 L559.0,759.1 L560.5,759.0 L562.0,759.0 L563.5,759.0 L565.0,758.9 L566.5,758.9 L568.0,758.8 L569.5,758.8 L571.0,758.8 L572.5,758.7 L574.0,758.7 L575.5,758.6 L577.0,758.6 L578.5,758.6 L580.0,758.5 L581.5,758.5 L583.0,758.4 L584.5,758.4 L586.0,758.3 L587.5,758.3 L589.0,758.2 L590.5,758.2 L592.0,758.1 L593.5,758.1 L595.0,758.0 L596.5,758.0 L598.0,757.9 L599.5,757.9 L601.0,757.8 L602.5,757.8 L604.0,757.7 L605.5,757.7 L607.0,757.6 L608.5,757.6 L610.0,757.5 L611.5,757.5 L613.0,757.4 L614.5,757.3 L616.0,757.3 L617.5,757.2 L619.0,757.2 L620.5,757.1 L622.0,757.0 L623.5,757.0 L625.0,756.9 L626.5,756.8 L628.0,756.8 L629.5,756.7 L631.0,756.6 L632.5,756.6 L634.0,756.5 L635.5,756.4 L637.0,756.3 L638.5,756.3 L640.0,756.2 L641.5,756.1 L643.0,756.0 L644.5,755.9 L646.0,755.9 L647.5,755.8 L649.0,755.7 L650.5,755.6 L652.0,755.5 L653.5,755.4 L655.0,755.3 L656.5,755.3 L658.0,755.2 L659.5,755.1 L661.0,755.0 L662.5,754.9 L664.0,754.8 L665.5,754.7 L667.0,754.6 L668.5,754.5 L670.0,754.4 L671.5,754.2 L673.0,754.1 L674.5,754.0 L676.0,753.9 L677.5,753.8 L679.0,753.7 L680.5,753.5 L682.0,753.4 L683.5,753.3 L685.0,753.2 L686.5,753.0 L688.0,752.9 L689.5,752.8 L691.0,752.6 L692.5,752.5 L694.0,752.3 L695.5,752.2 L697.0,752.0 L698.5,751.9 L700.0,751.7 L701.5,751.6 L703.0,751.4 L704.5,751.2 L706.0,751.1 L707.5,750.9 L709.0,750.7 L710.5,750.5 L712.0,750.3 L713.5,750.1 L715.0,749.9 L716.5,749.7 L718.0,749.5 L719.5,749.3 L721.0,749.1 L722.5,748.9 L724.0,748.7 L725.5,748.5 L727.0,748.2 L728.5,748.0 L730.0,747.7 L731.5,747.5 L733.0,747.2 L734.5,747.0 L736.0,746.7 L737.5,746.4 L739.0,746.1 L740.5,745.9 L742.0,745.6 L743.5,745.3 L745.0,744.9 L746.5,744.6 L748.0,744.3 L749.5,744.0 L751.0,743.6 L752.5,743.3 L754.0,742.9 L755.5,742.5 L757.0,742.1 L758.5,741.8 L760.0,741.3 L761.5,740.9 L763.0,740.5 L764.5,740.1 L766.0,739.6 L767.5,739.1 L769.0,738.7 L770.5,738.2 L772.0,737.7 L773.5,737.1 L775.0,736.6 L776.5,736.0 L778.0,735.5 L779.5,734.9 L781.0,734.3 L782.5,733.6 L784.0,733.0 L785.5,732.3 L787.0,731.6 L788.5,730.9 L790.0,730.2 L791.5,729.4 L793.0,728.6 L794.5,727.8 L796.0,726.9 L797.5,726.1 L799.0,725.2 L800.5,724.2 L802.0,723.3 L803.5,722.2 L805.0,721.2 L806.5,720.1 L808.0,719.0 L809.5,717.8 L811.0,716.6 L812.5,715.4 L814.0,714.1 L815.5,712.7 L817.0,711.3 L818.5,709.9 L820.0,708.4 L821.5,706.8 L823.0,705.2 L824.5,703.5 L826.0,701.7 L827.5,699.9 L829.0,698.0 L830.5,696.0 L832.0,694.0 L833.5,691.8 L835.0,689.6 L836.5,687.3 L838.0,684.9 L839.5,682.4 L841.0,679.9 L842.5,677.2 L844.0,674.4 L845.5,671.5 L847.0,668.6 L848.5,665.5 L850.0,662.3 L851.5,659.0 L853.0,655.6 L854.5,652.0 L856.0,648.4 L857.5,644.6 L859.0,640.7 L860.5,636.8 L862.0,632.7 L863.5,628.5 L865.0,624.2 L866.5,619.8 L868.0,615.3 L869.5,610.7 L871.0,606.0 L872.5,601.3 L874.0,596.5 L875.5,591.6 L877.0,586.7 L878.5,581.7 L880.0,576.7 L881.5,571.7 L883.0,566.7 L884.5,561.8 L886.0,556.8 L887.5,551.9 L889.0,547.1 L890.5,542.3 L892.0,537.6 L893.5,533.1 L895.0,528.7 L896.5,524.4 L898.0,520.3 L899.5,516.4 L901.0,512.7 L902.5,509.3 L904.0,506.0 L905.5,503.0 L907.0,500.3 L908.5,497.9 L910.0,495.7 L911.5,493.9 L913.0,492.3 L914.5,491.1 L916.0,490.3 L917.5,489.7 L919.0,489.5 L920.5,489.6 L922.0,490.1 L923.5,490.9 L925.0,492.0 L926.5,493.4 L928.0,495.2 L929.5,497.3 L931.0,499.6 L932.5,502.3 L934.0,505.2 L935.5,508.4 L937.0,511.8 L938.5,515.4 L940.0,519.3 L941.5,523.3 L943.0,527.5 L944.5,531.9 L946.0,536.4 L947.5,541.1 L949.0,545.8 L950.5,550.6 L952.0,555.5 L953.5,560.4 L955.0,565.4 L956.5,570.4 L958.0,575.4 L959.5,580.4 L961.0,585.4 L962.5,590.3 L964.0,595.2 L965.5,600.0 L967.0,604.8 L968.5,609.5 L970.0,614.1 L971.5,618.6 L973.0,623.0 L974.5,627.3 L976.0,631.6 L977.5,635.7 L979.0,639.7 L980.5,643.6 L982.0,647.4 L983.5,651.1 L985.0,654.6 L986.5,658.1 L988.0,661.4 L989.5,664.6 L991.0,667.8 L992.5,670.8 L994.0,673.7 L995.5,676.5 L997.0,679.2 L998.5,681.8 L1000.0,684.3 L1001.5,686.7"/>
<path d="M641.5,762.0 L643.0,762.0 L644.5,762.0 L646.0,762.0 L647.5,762.0 L649.0,762.0 L650.5,762.0 L652.0,761.9 L653.5,761.9 L655.0,761.9 L656.5,761.9 L658.0,761.9 L659.5,761.9 L661.0,761.9 L662.5,761.9 L664.0,761.9 L665.5,761.9 L667.0,761.8 L668.5,761.8 L670.0,761.8 L671.5,761.8 L673.0,761.8 L674.5,761.8 L676.0,761.8 L677.5,761.8 L679.0,761.7 L680.5,761.7 L682.0,761.7 L683.5,761.7 L685.0,761.7 L686.5,761.7 L688.0,761.7 L689.5,761.7 L691.0,761.6 L692.5,761.6 L694.0,761.6 L695.5,761.6 L697.0,761.6 L698.5,761.6 L700.0,761.6 L701.5,761.5 L703.0,761.5 L704.5,761.5 L706.0,761.5 L707.5,761.5 L709.0,761.5 L710.5,761.5 L712.0,761.4 L713.5,761.4 L715.0,761.4 L716.5,761.4 L718.0,761.4 L719.5,761.4 L721.0,761.3 L722.5,761.3 L724.0,761.3 L725.5,761.3 L727.0,761.3 L728.5,761.3 L730.0,761.2 L731.5,761.2 L733.0,761.2 L734.5,761.2 L736.0,761.2 L737.5,761.1 L739.0,761.1 L740.5,761.1 L742.0,761.1 L743.5,761.1 L745.0,761.0 L746.5,761.0 L748.0,761.0 L749.5,761.0 L751.0,761.0 L752.5,760.9 L754.0,760.9 L755.5,760.9 L757.0,760.9 L758.5,760.8 L760.0,760.8 L761.5,760.8 L763.0,760.8 L764.5,760.7 L766.0,760.7 L767.5,760.7 L769.0,760.7 L770.5,760.6 L772.0,760.6 L773.5,760.6 L775.0,760.6 L776.5,760.5 L778.0,760.5 L779.5,760.5 L781.0,760.5 L782.5,760.4 L784.0,760.4 L785.5,760.4 L787.0,760.3 L788.5,760.3 L790.0,760.3 L791.5,760.2 L793.0,760.2 L794.5,760.2 L796.0,760.1 L797.5,760.1 L799.0,760.1 L800.5,760.0 L802.0,760.0 L803.5,760.0 L805.0,759.9 L806.5,759.9 L808.0,759.9 L809.5,759.8 L811.0,759.8 L812.5,759.7 L814.0,759.7 L815.5,759.7 L817.0,759.6 L818.5,759.6 L820.0,759.5 L821.5,759.5 L823.0,759.4 L824.5,759.4 L826.0,759.4 L827.5,759.3 L829.0,759.3 L830.5,759.2 L832.0,759.2 L833.5,759.1 L835.0,759.1 L836.5,759.0 L838.0,759.0 L839.5,758.9 L841.0,758.8 L842.5,758.8 L844.0,758.7 L845.5,758.7 L847.0,758.6 L848.5,758.6 L850.0,758.5 L851.5,758.4 L853.0,758.4 L854.5,758.3 L856.0,758.2 L857.5,758.2 L859.0,758.1 L860.5,758.0 L862.0,758.0 L863.5,757.9 L865.0,757.8 L866.5,757.7 L868.0,757.7 L869.5,757.6 L871.0,757.5 L872.5,757.4 L874.0,757.3 L875.5,757.3 L877.0,757.2 L878.5,757.1 L880.0,757.0 L881.5,756.9 L883.0,756.8 L884.5,756.7 L886.0,756.6 L887.5,756.5 L889.0,756.4 L890.5,756.3 L892.0,756.2 L893.5,756.1 L895.0,756.0 L896.5,755.9 L898.0,755.7 L899.5,755.6 L901.0,755.5 L902.5,755.4 L904.0,755.2 L905.5,755.1 L907.0,755.0 L908.5,754.8 L910.0,754.7 L911.5,754.6 L913.0,754.4 L914.5,754.2 L916.0,754.1 L917.5,753.9 L919.0,753.8 L920.5,753.6 L922.0,753.4 L923.5,753.2 L925.0,753.1 L926.5,752.9 L928.0,752.7 L929.5,752.5 L931.0,752.3 L932.5,752.1 L934.0,751.9 L935.5,751.6 L937.0,751.4 L938.5,751.2 L940.0,751.0 L941.5,750.7 L943.0,750.5 L944.5,750.2 L946.0,749.9 L947.5,749.7 L949.0,749.4 L950.5,749.1 L952.0,748.8 L953.5,748.5 L955.0,748.1 L956.5,747.8 L958.0,747.5 L959.5,747.1 L961.0,746.8 L962.5,746.4 L964.0,746.0 L965.5,745.6 L967.0,745.2 L968.5,744.8 L970.0,744.3 L971.5,743.9 L973.0,743.4 L974.5,742.9 L976.0,742.4 L977.5,741.9 L979.0,741.4 L980.5,740.8 L982.0,740.3 L983.5,739.7 L985.0,739.0" stroke-width="4.8"/>
</g>
<g stroke="#0e0f0e" stroke-width="5.6" fill="none" stroke-linecap="butt" stroke-linejoin="round">
<path d="M338.4,2114.5 L339.9,2114.4 L341.4,2114.3 L342.9,2114.2 L344.4,2114.2 L345.9,2114.1 L347.4,2114.0 L348.9,2113.9 L350.4,2113.8 L351.9,2113.7 L353.4,2113.6 L354.9,2113.5 L356.4,2113.4 L357.9,2113.3 L359.4,2113.2 L360.9,2113.1 L362.4,2113.0 L363.9,2112.9 L365.4,2112.8 L366.9,2112.6 L368.4,2112.5 L369.9,2112.4 L371.4,2112.3 L372.9,2112.2 L374.4,2112.0 L375.9,2111.9 L377.4,2111.8 L378.9,2111.6 L380.4,2111.5 L381.9,2111.4 L383.4,2111.2 L384.9,2111.1 L386.4,2110.9 L387.9,2110.8 L389.4,2110.6 L390.9,2110.4 L392.4,2110.3 L393.9,2110.1 L395.4,2109.9 L396.9,2109.8 L398.4,2109.6 L399.9,2109.4 L401.4,2109.2 L402.9,2109.0 L404.4,2108.8 L405.9,2108.6 L407.4,2108.4 L408.9,2108.2 L410.4,2108.0 L411.9,2107.8 L413.4,2107.5 L414.9,2107.3 L416.4,2107.1 L417.9,2106.8 L419.4,2106.6 L420.9,2106.3 L422.4,2106.0 L423.9,2105.8 L425.4,2105.5 L426.9,2105.2 L428.4,2104.9 L429.9,2104.6 L431.4,2104.3 L432.9,2104.0 L434.4,2103.6 L435.9,2103.3 L437.4,2102.9 L438.9,2102.6 L440.4,2102.2 L441.9,2101.8 L443.4,2101.4 L444.9,2101.0 L446.4,2100.6 L447.9,2100.2 L449.4,2099.7 L450.9,2099.2 L452.4,2098.8 L453.9,2098.3 L455.4,2097.8 L456.9,2097.2 L458.4,2096.7 L459.9,2096.1 L461.4,2095.5 L462.9,2094.9 L464.4,2094.3 L465.9,2093.6 L467.4,2093.0 L468.9,2092.3 L470.4,2091.5 L471.9,2090.8 L473.4,2090.0 L474.9,2089.2 L476.4,2088.3 L477.9,2087.5 L479.4,2086.5 L480.9,2085.6 L482.4,2084.6 L483.9,2083.6 L485.4,2082.5 L486.9,2081.4 L488.4,2080.2 L489.9,2079.0 L491.4,2077.7 L492.9,2076.3 L494.4,2075.0 L495.9,2073.5 L497.4,2072.0 L498.9,2070.4 L500.4,2068.7 L501.9,2066.9 L503.4,2065.1 L504.9,2063.2 L506.4,2061.1 L507.9,2059.0 L509.4,2056.8 L510.9,2054.5 L512.4,2052.0 L513.9,2049.4 L515.4,2046.7 L516.9,2043.9 L518.4,2040.9 L519.9,2037.8 L521.4,2034.5 L522.9,2031.1 L524.4,2027.5 L525.9,2023.7 L527.4,2019.7 L528.9,2015.6 L530.4,2011.3 L531.9,2006.7 L533.4,2002.0 L534.9,1997.1 L536.4,1992.0 L537.9,1986.7 L539.4,1981.2 L540.9,1975.5 L542.4,1969.7 L543.9,1963.6 L545.4,1957.5 L546.9,1951.1 L548.4,1944.7 L549.9,1938.1 L551.4,1931.5 L552.9,1924.8 L554.4,1918.1 L555.9,1911.4 L557.4,1904.8 L558.9,1898.2 L560.4,1891.8 L561.9,1885.5 L563.4,1879.4 L564.9,1873.6 L566.4,1868.1 L567.9,1862.9 L569.4,1858.0 L570.9,1853.6 L572.4,1849.7 L573.9,1846.2 L575.4,1843.2 L576.9,1840.8 L578.4,1838.9 L579.9,1837.6 L581.4,1836.9 L582.9,1836.8 L584.4,1837.3 L585.9,1838.4 L587.4,1840.1 L588.9,1842.4 L590.4,1845.2 L591.9,1848.5 L593.4,1852.3 L594.9,1856.6 L596.4,1861.2 L597.9,1866.3 L599.4,1871.7 L600.9,1877.4 L602.4,1883.4 L603.9,1889.6 L605.4,1895.9 L606.9,1902.4 L608.4,1908.9 L609.9,1915.6 L611.4,1922.2 L612.9,1928.8 L614.4,1935.4 L615.9,1941.9 L617.4,1948.3 L618.9,1954.6 L620.4,1960.7 L621.9,1966.7 L623.4,1972.5 L624.9,1978.1 L626.4,1983.6 L627.9,1988.9 L629.4,1994.0 L630.9,1998.8 L632.4,2003.5 L633.9,2008.0 L635.4,2012.3 L636.9,2016.4 L638.4,2020.3 L639.9,2024.1 L641.4,2027.6 L642.9,2031.0 L644.4,2034.3 L645.9,2037.3 L647.4,2040.3 L648.9,2043.1 L650.4,2045.7 L651.9,2048.2 L653.4,2050.6 L654.9,2052.9 L656.4,2055.1 L657.9,2057.1 L659.4,2059.1 L660.9,2060.9 L662.4,2062.7 L663.9,2064.4 L665.4,2066.0 L666.9,2067.5 L668.4,2069.0 L669.9,2070.4 L671.4,2071.7 L672.9,2072.9 L674.4,2074.1 L675.9,2075.3 L677.4,2076.4 L678.9,2077.4 L680.4,2078.4 L681.9,2079.3 L683.4,2080.2 L684.9,2081.1 L686.4,2081.9 L687.9,2082.7 L689.4,2083.5 L690.9,2084.2 L692.4,2084.9 L693.9,2085.5 L695.4,2086.1 L696.9,2086.7 L698.4,2087.3 L699.9,2087.9 L701.4,2088.4 L702.9,2088.9 L704.4,2089.3 L705.9,2089.8 L707.4,2090.2 L708.9,2090.6 L710.4,2091.0 L711.9,2091.4 L713.4,2091.7 L714.9,2092.1 L716.4,2092.4 L717.9,2092.7 L719.4,2093.0 L720.9,2093.3 L722.4,2093.5 L723.9,2093.8 L725.4,2094.0 L726.9,2094.2 L728.4,2094.4 L729.9,2094.6 L731.4,2094.8 L732.9,2095.0 L734.4,2095.1 L735.9,2095.3 L737.4,2095.4 L738.9,2095.5 L740.4,2095.6 L741.9,2095.7 L743.4,2095.8 L744.9,2095.9 L746.4,2096.0 L747.9,2096.0 L749.4,2096.1 L750.9,2096.1 L752.4,2096.1 L753.9,2096.2 L755.4,2096.2 L756.9,2096.2 L758.4,2096.2 L759.9,2096.1 L761.4,2096.1 L762.9,2096.1 L764.4,2096.0 L765.9,2096.0 L767.4,2095.9 L768.9,2095.8 L770.4,2095.7 L771.9,2095.6 L773.4,2095.5 L774.9,2095.4 L776.4,2095.3 L777.9,2095.2 L779.4,2095.0 L780.9,2094.9 L782.4,2094.7 L783.9,2094.5 L785.4,2094.3 L786.9,2094.1 L788.4,2093.9 L789.9,2093.7 L791.4,2093.5 L792.9,2093.2 L794.4,2092.9 L795.9,2092.7 L797.4,2092.4 L798.9,2092.1 L800.4,2091.8 L801.9,2091.4 L803.4,2091.1 L804.9,2090.7 L806.4,2090.4 L807.9,2090.0 L809.4,2089.6 L810.9,2089.1 L812.4,2088.7 L813.9,2088.2 L815.4,2087.8 L816.9,2087.3 L818.4,2086.7 L819.9,2086.2 L821.4,2085.6 L822.9,2085.0 L824.4,2084.4 L825.9,2083.8 L827.4,2083.1 L828.9,2082.4 L830.4,2081.7 L831.9,2081.0 L833.4,2080.2 L834.9,2079.3 L836.4,2078.5 L837.9,2077.6 L839.4,2076.7 L840.9,2075.7 L842.4,2074.7 L843.9,2073.6 L845.4,2072.5 L846.9,2071.4 L848.4,2070.2 L849.9,2068.9 L851.4,2067.6 L852.9,2066.3 L854.4,2064.8 L855.9,2063.3 L857.4,2061.7 L858.9,2060.1 L860.4,2058.4 L861.9,2056.6 L863.4,2054.7 L864.9,2052.7 L866.4,2050.6 L867.9,2048.5 L869.4,2046.2 L870.9,2043.8 L872.4,2041.3 L873.9,2038.7 L875.4,2035.9 L876.9,2033.0 L878.4,2030.0 L879.9,2026.8 L881.4,2023.5 L882.9,2020.1 L884.4,2016.5 L885.9,2012.7 L887.4,2008.7 L888.9,2004.6 L890.4,2000.3 L891.9,1995.8 L893.4,1991.1 L894.9,1986.3 L896.4,1981.3 L897.9,1976.1 L899.4,1970.7 L900.9,1965.1 L902.4,1959.4 L903.9,1953.5 L905.4,1947.4 L906.9,1941.2 L908.4,1934.9 L909.9,1928.4 L911.4,1921.9 L912.9,1915.2 L914.4,1908.5 L915.9,1901.7 L917.4,1894.9 L918.9,1888.2 L920.4,1881.4 L921.9,1874.7 L923.4,1868.1 L924.9,1861.6 L926.4,1855.3 L927.9,1849.2 L929.4,1843.3 L930.9,1837.6 L932.4,1832.2 L933.9,1827.1 L935.4,1822.4 L936.9,1818.1 L938.4,1814.1 L939.9,1810.6 L941.4,1807.5 L942.9,1804.9 L944.4,1802.8 L945.9,1801.1 L947.4,1800.0 L948.9,1799.4 L950.4,1799.2 L951.9,1799.6 L953.4,1800.5 L954.9,1801.9 L956.4,1803.8 L957.9,1806.1 L959.4,1808.8 L960.9,1812.0 L962.4,1815.6 L963.9,1819.5 L965.4,1823.8 L966.9,1828.4 L968.4,1833.2 L969.9,1838.3 L971.4,1843.6 L972.9,1849.0 L974.4,1854.6 L975.9,1860.3 L977.4,1866.0 L978.9,1871.8 L980.4,1877.6 L981.9,1883.3 L983.4,1889.0 L984.9,1894.6 L986.4,1900.1 L987.9,1905.5 L989.4,1910.7 L990.9,1915.8 L992.4,1920.6 L993.9,1925.3 L995.4,1929.7 L996.9,1933.9 L998.4,1937.9 L999.9,1941.6 L1001.4,1945.1 L1002.9,1948.3 L1004.4,1951.3 L1005.9,1954.0 L1007.4,1956.4 L1008.9,1958.6 L1010.4,1960.5 L1011.9,1962.1 L1013.4,1963.5 L1014.9,1964.6 L1016.4,1965.5 L1017.9,1966.1 L1019.4,1966.5 L1020.9,1966.6 L1022.4,1966.5 L1023.9,1966.2 L1025.4,1965.7 L1026.9,1964.9 L1028.4,1964.0 L1029.9,1962.8 L1031.4,1961.5 L1032.9,1960.0 L1034.4,1958.4 L1035.9,1956.6 L1037.4,1954.6 L1038.9,1952.6 L1040.4,1950.4 L1041.9,1948.2 L1043.4,1945.8 L1044.9,1943.4 L1046.4,1941.0 L1047.9,1938.5 L1049.4,1935.9 L1050.9,1933.4 L1052.4,1930.9 L1053.9,1928.4 L1055.4,1926.0 L1056.9,1923.6 L1058.4,1921.2 L1059.9,1919.0 L1061.4,1916.8 L1062.9,1914.7 L1064.4,1912.8 L1065.9,1911.0 L1067.4,1909.3 L1068.9,1907.8 L1070.4,1906.4 L1071.9,1905.2 L1073.4,1904.1 L1074.9,1903.2 L1076.4,1902.5 L1077.9,1902.0 L1079.4,1901.6 L1080.9,1901.3 L1082.4,1901.3 L1083.9,1901.4 L1085.4,1901.6 L1086.9,1902.0 L1088.4,1902.4 L1089.9,1903.1 L1091.4,1903.8 L1092.9,1904.6 L1094.4,1905.4 L1095.9,1906.4 L1097.4,1907.3 L1098.9,1908.3 L1100.4,1909.3"/>
<path d="M338.4,2116.3 L339.9,2116.2 L341.4,2116.1 L342.9,2116.0 L344.4,2116.0 L345.9,2115.9 L347.4,2115.8 L348.9,2115.7 L350.4,2115.6 L351.9,2115.5 L353.4,2115.4 L354.9,2115.4 L356.4,2115.3 L357.9,2115.2 L359.4,2115.1 L360.9,2115.0 L362.4,2114.9 L363.9,2114.8 L365.4,2114.7 L366.9,2114.6 L368.4,2114.5 L369.9,2114.4 L371.4,2114.2 L372.9,2114.1 L374.4,2114.0 L375.9,2113.9 L377.4,2113.8 L378.9,2113.6 L380.4,2113.5 L381.9,2113.4 L383.4,2113.2 L384.9,2113.1 L386.4,2113.0 L387.9,2112.8 L389.4,2112.7 L390.9,2112.5 L392.4,2112.4 L393.9,2112.2 L395.4,2112.1 L396.9,2111.9 L398.4,2111.7 L399.9,2111.6 L401.4,2111.4 L402.9,2111.2 L404.4,2111.0 L405.9,2110.8 L407.4,2110.6 L408.9,2110.4 L410.4,2110.2 L411.9,2110.0 L413.4,2109.8 L414.9,2109.6 L416.4,2109.3 L417.9,2109.1 L419.4,2108.9 L420.9,2108.6 L422.4,2108.4 L423.9,2108.1 L425.4,2107.8 L426.9,2107.6 L428.4,2107.3 L429.9,2107.0 L431.4,2106.7 L432.9,2106.4 L434.4,2106.0 L435.9,2105.7 L437.4,2105.4 L438.9,2105.0 L440.4,2104.7 L441.9,2104.3 L443.4,2103.9 L444.9,2103.5 L446.4,2103.1 L447.9,2102.7 L449.4,2102.3 L450.9,2101.8 L452.4,2101.3 L453.9,2100.9 L455.4,2100.4 L456.9,2099.8 L458.4,2099.3 L459.9,2098.8 L461.4,2098.2 L462.9,2097.6 L464.4,2097.0 L465.9,2096.4 L467.4,2095.7 L468.9,2095.0 L470.4,2094.3 L471.9,2093.6 L473.4,2092.8 L474.9,2092.0 L476.4,2091.2 L477.9,2090.3 L479.4,2089.4 L480.9,2088.5 L482.4,2087.5 L483.9,2086.5 L485.4,2085.4 L486.9,2084.3 L488.4,2083.1 L489.9,2081.9 L491.4,2080.7 L492.9,2079.4 L494.4,2078.0 L495.9,2076.5 L497.4,2075.0 L498.9,2073.5 L500.4,2071.8 L501.9,2070.1 L503.4,2068.2 L504.9,2066.3 L506.4,2064.3 L507.9,2062.2 L509.4,2060.0 L510.9,2057.7 L512.4,2055.3 L513.9,2052.7 L515.4,2050.0 L516.9,2047.2 L518.4,2044.3 L519.9,2041.2 L521.4,2037.9 L522.9,2034.5 L524.4,2030.9 L525.9,2027.1 L527.4,2023.2 L528.9,2019.1 L530.4,2014.8 L531.9,2010.3 L533.4,2005.6 L534.9,2000.7 L536.4,1995.6 L537.9,1990.3 L539.4,1984.9 L540.9,1979.2 L542.4,1973.4 L543.9,1967.4 L545.4,1961.2 L546.9,1954.9 L548.4,1948.5 L549.9,1942.0 L551.4,1935.4 L552.9,1928.7 L554.4,1922.1 L555.9,1915.4 L557.4,1908.8 L558.9,1902.2 L560.4,1895.8 L561.9,1889.6 L563.4,1883.5 L564.9,1877.7 L566.4,1872.2 L567.9,1867.0 L569.4,1862.2 L570.9,1857.9 L572.4,1853.9 L573.9,1850.5 L575.4,1847.5 L576.9,1845.1 L578.4,1843.3 L579.9,1842.1 L581.4,1841.4 L582.9,1841.3 L584.4,1841.9 L585.9,1843.0 L587.4,1844.7 L588.9,1847.0 L590.4,1849.8 L591.9,1853.2 L593.4,1857.0 L594.9,1861.3 L596.4,1866.1 L597.9,1871.2 L599.4,1876.6 L600.9,1882.4 L602.4,1888.4 L603.9,1894.6 L605.4,1900.9 L606.9,1907.5 L608.4,1914.1 L609.9,1920.7 L611.4,1927.4 L612.9,1934.1 L614.4,1940.7 L615.9,1947.2 L617.4,1953.7 L618.9,1960.0 L620.4,1966.2 L621.9,1972.2 L623.4,1978.1 L624.9,1983.8 L626.4,1989.3 L627.9,1994.6 L629.4,1999.7 L630.9,2004.6 L632.4,2009.4 L633.9,2013.9 L635.4,2018.2 L636.9,2022.4 L638.4,2026.4 L639.9,2030.2 L641.4,2033.8 L642.9,2037.2 L644.4,2040.5 L645.9,2043.7 L647.4,2046.7 L648.9,2049.5 L650.4,2052.2 L651.9,2054.8 L653.4,2057.2 L654.9,2059.6 L656.4,2061.8 L657.9,2063.9 L659.4,2065.9 L660.9,2067.9 L662.4,2069.7 L663.9,2071.5 L665.4,2073.1 L666.9,2074.7 L668.4,2076.2 L669.9,2077.7 L671.4,2079.1 L672.9,2080.4 L674.4,2081.7 L675.9,2082.9 L677.4,2084.1 L678.9,2085.2 L680.4,2086.3 L681.9,2087.3 L683.4,2088.3 L684.9,2089.2 L686.4,2090.1 L687.9,2091.0 L689.4,2091.8 L690.9,2092.6 L692.4,2093.4 L693.9,2094.2 L695.4,2094.9 L696.9,2095.6 L698.4,2096.2 L699.9,2096.9 L701.4,2097.5 L702.9,2098.1 L704.4,2098.7 L705.9,2099.2 L707.4,2099.7 L708.9,2100.3 L710.4,2100.8 L711.9,2101.2 L713.4,2101.7 L714.9,2102.2 L716.4,2102.6 L717.9,2103.0 L719.4,2103.4 L720.9,2103.8 L722.4,2104.2 L723.9,2104.6 L725.4,2105.0 L726.9,2105.3 L728.4,2105.7 L729.9,2106.0 L731.4,2106.3 L732.9,2106.6 L734.4,2106.9 L735.9,2107.2 L737.4,2107.5 L738.9,2107.8 L740.4,2108.0 L741.9,2108.3 L743.4,2108.6 L744.9,2108.8 L746.4,2109.1 L747.9,2109.3 L749.4,2109.5 L750.9,2109.7 L752.4,2110.0 L753.9,2110.2 L755.4,2110.4 L756.9,2110.6 L758.4,2110.8 L759.9,2111.0 L761.4,2111.2 L762.9,2111.3 L764.4,2111.5 L765.9,2111.7 L767.4,2111.9 L768.9,2112.0 L770.4,2112.2 L771.9,2112.3 L773.4,2112.5 L774.9,2112.7 L776.4,2112.8 L777.9,2112.9 L779.4,2113.1 L780.9,2113.2 L782.4,2113.4 L783.9,2113.5 L785.4,2113.6 L786.9,2113.7 L788.4,2113.9 L789.9,2114.0 L791.4,2114.1 L792.9,2114.2 L794.4,2114.3 L795.9,2114.4 L797.4,2114.5 L798.9,2114.7 L800.4,2114.8 L801.9,2114.9 L803.4,2115.0 L804.9,2115.1 L806.4,2115.2 L807.9,2115.2 L809.4,2115.3 L810.9,2115.4 L812.4,2115.5 L813.9,2115.6 L815.4,2115.7 L816.9,2115.8 L818.4,2115.9 L819.9,2115.9 L821.4,2116.0 L822.9,2116.1 L824.4,2116.2 L825.9,2116.2 L827.4,2116.3 L828.9,2116.4 L830.4,2116.5 L831.9,2116.5 L833.4,2116.6 L834.9,2116.7 L836.4,2116.7 L837.9,2116.8 L839.4,2116.9 L840.9,2116.9 L842.4,2117.0 L843.9,2117.0 L845.4,2117.1 L846.9,2117.2 L848.4,2117.2 L849.9,2117.3 L851.4,2117.3 L852.9,2117.4 L854.4,2117.4 L855.9,2117.5 L857.4,2117.5 L858.9,2117.6 L860.4,2117.6 L861.9,2117.7 L863.4,2117.7 L864.9,2117.8 L866.4,2117.8 L867.9,2117.9 L869.4,2117.9 L870.9,2118.0 L872.4,2118.0 L873.9,2118.1 L875.4,2118.1 L876.9,2118.2 L878.4,2118.2 L879.9,2118.2 L881.4,2118.3 L882.9,2118.3 L884.4,2118.4 L885.9,2118.4 L887.4,2118.4 L888.9,2118.5 L890.4,2118.5 L891.9,2118.5 L893.4,2118.6 L894.9,2118.6 L896.4,2118.7 L897.9,2118.7 L899.4,2118.7 L900.9,2118.8 L902.4,2118.8 L903.9,2118.8 L905.4,2118.9 L906.9,2118.9 L908.4,2118.9 L909.9,2118.9 L911.4,2119.0 L912.9,2119.0 L914.4,2119.0 L915.9,2119.1 L917.4,2119.1 L918.9,2119.1 L920.4,2119.1 L921.9,2119.2 L923.4,2119.2 L924.9,2119.2 L926.4,2119.3 L927.9,2119.3 L929.4,2119.3 L930.9,2119.3 L932.4,2119.4 L933.9,2119.4 L935.4,2119.4 L936.9,2119.4 L938.4,2119.5 L939.9,2119.5 L941.4,2119.5 L942.9,2119.5 L944.4,2119.6 L945.9,2119.6 L947.4,2119.6 L948.9,2119.6 L950.4,2119.6 L951.9,2119.7 L953.4,2119.7 L954.9,2119.7 L956.4,2119.7 L957.9,2119.7 L959.4,2119.8 L960.9,2119.8 L962.4,2119.8 L963.9,2119.8 L965.4,2119.8 L966.9,2119.9 L968.4,2119.9 L969.9,2119.9 L971.4,2119.9 L972.9,2119.9 L974.4,2120.0 L975.9,2120.0 L977.4,2120.0 L978.9,2120.0 L980.4,2120.0 L981.9,2120.0 L983.4,2120.1 L984.9,2120.1 L986.4,2120.1 L987.9,2120.1 L989.4,2120.1 L990.9,2120.1 L992.4,2120.2 L993.9,2120.2 L995.4,2120.2 L996.9,2120.2 L998.4,2120.2 L999.9,2120.2 L1001.4,2120.2 L1002.9,2120.3 L1004.4,2120.3 L1005.9,2120.3 L1007.4,2120.3 L1008.9,2120.3 L1010.4,2120.3 L1011.9,2120.3 L1013.4,2120.4 L1014.9,2120.4 L1016.4,2120.4 L1017.9,2120.4 L1019.4,2120.4 L1020.9,2120.4 L1022.4,2120.4 L1023.9,2120.5 L1025.4,2120.5 L1026.9,2120.5 L1028.4,2120.5 L1029.9,2120.5 L1031.4,2120.5 L1032.9,2120.5 L1034.4,2120.5 L1035.9,2120.5 L1037.4,2120.6 L1038.9,2120.6 L1040.4,2120.6 L1041.9,2120.6 L1043.4,2120.6 L1044.9,2120.6 L1046.4,2120.6 L1047.9,2120.6 L1049.4,2120.6 L1050.9,2120.7 L1052.4,2120.7 L1053.9,2120.7 L1055.4,2120.7 L1056.9,2120.7 L1058.4,2120.7 L1059.9,2120.7 L1061.4,2120.7 L1062.9,2120.7 L1064.4,2120.7 L1065.9,2120.8 L1067.4,2120.8 L1068.9,2120.8 L1070.4,2120.8 L1071.9,2120.8 L1073.4,2120.8 L1074.9,2120.8 L1076.4,2120.8 L1077.9,2120.8 L1079.4,2120.8 L1080.9,2120.8 L1082.4,2120.9 L1083.9,2120.9 L1085.4,2120.9 L1086.9,2120.9 L1088.4,2120.9 L1089.9,2120.9 L1091.4,2120.9 L1092.9,2120.9 L1094.4,2120.9 L1095.9,2120.9 L1097.4,2120.9 L1098.9,2120.9 L1100.4,2121.0"/>
<path d="M338.4,2121.2 L339.9,2121.2 L341.4,2121.2 L342.9,2121.2 L344.4,2121.2 L345.9,2121.2 L347.4,2121.1 L348.9,2121.1 L350.4,2121.1 L351.9,2121.1 L353.4,2121.1 L354.9,2121.1 L356.4,2121.1 L357.9,2121.1 L359.4,2121.1 L360.9,2121.1 L362.4,2121.1 L363.9,2121.1 L365.4,2121.1 L366.9,2121.1 L368.4,2121.1 L369.9,2121.1 L371.4,2121.0 L372.9,2121.0 L374.4,2121.0 L375.9,2121.0 L377.4,2121.0 L378.9,2121.0 L380.4,2121.0 L381.9,2121.0 L383.4,2121.0 L384.9,2121.0 L386.4,2121.0 L387.9,2121.0 L389.4,2121.0 L390.9,2121.0 L392.4,2121.0 L393.9,2120.9 L395.4,2120.9 L396.9,2120.9 L398.4,2120.9 L399.9,2120.9 L401.4,2120.9 L402.9,2120.9 L404.4,2120.9 L405.9,2120.9 L407.4,2120.9 L408.9,2120.9 L410.4,2120.9 L411.9,2120.9 L413.4,2120.8 L414.9,2120.8 L416.4,2120.8 L417.9,2120.8 L419.4,2120.8 L420.9,2120.8 L422.4,2120.8 L423.9,2120.8 L425.4,2120.8 L426.9,2120.8 L428.4,2120.8 L429.9,2120.8 L431.4,2120.7 L432.9,2120.7 L434.4,2120.7 L435.9,2120.7 L437.4,2120.7 L438.9,2120.7 L440.4,2120.7 L441.9,2120.7 L443.4,2120.7 L444.9,2120.7 L446.4,2120.6 L447.9,2120.6 L449.4,2120.6 L450.9,2120.6 L452.4,2120.6 L453.9,2120.6 L455.4,2120.6 L456.9,2120.6 L458.4,2120.6 L459.9,2120.6 L461.4,2120.5 L462.9,2120.5 L464.4,2120.5 L465.9,2120.5 L467.4,2120.5 L468.9,2120.5 L470.4,2120.5 L471.9,2120.5 L473.4,2120.5 L474.9,2120.4 L476.4,2120.4 L477.9,2120.4 L479.4,2120.4 L480.9,2120.4 L482.4,2120.4 L483.9,2120.4 L485.4,2120.4 L486.9,2120.3 L488.4,2120.3 L489.9,2120.3 L491.4,2120.3 L492.9,2120.3 L494.4,2120.3 L495.9,2120.3 L497.4,2120.3 L498.9,2120.2 L500.4,2120.2 L501.9,2120.2 L503.4,2120.2 L504.9,2120.2 L506.4,2120.2 L507.9,2120.2 L509.4,2120.1 L510.9,2120.1 L512.4,2120.1 L513.9,2120.1 L515.4,2120.1 L516.9,2120.1 L518.4,2120.0 L519.9,2120.0 L521.4,2120.0 L522.9,2120.0 L524.4,2120.0 L525.9,2120.0 L527.4,2120.0 L528.9,2119.9 L530.4,2119.9 L531.9,2119.9 L533.4,2119.9 L534.9,2119.9 L536.4,2119.8 L537.9,2119.8 L539.4,2119.8 L540.9,2119.8 L542.4,2119.8 L543.9,2119.8 L545.4,2119.7 L546.9,2119.7 L548.4,2119.7 L549.9,2119.7 L551.4,2119.7 L552.9,2119.6 L554.4,2119.6 L555.9,2119.6 L557.4,2119.6 L558.9,2119.6 L560.4,2119.5 L561.9,2119.5 L563.4,2119.5 L564.9,2119.5 L566.4,2119.4 L567.9,2119.4 L569.4,2119.4 L570.9,2119.4 L572.4,2119.4 L573.9,2119.3 L575.4,2119.3 L576.9,2119.3 L578.4,2119.3 L579.9,2119.2 L581.4,2119.2 L582.9,2119.2 L584.4,2119.2 L585.9,2119.1 L587.4,2119.1 L588.9,2119.1 L590.4,2119.1 L591.9,2119.0 L593.4,2119.0 L594.9,2119.0 L596.4,2118.9 L597.9,2118.9 L599.4,2118.9 L600.9,2118.9 L602.4,2118.8 L603.9,2118.8 L605.4,2118.8 L606.9,2118.7 L608.4,2118.7 L609.9,2118.7 L611.4,2118.6 L612.9,2118.6 L614.4,2118.6 L615.9,2118.5 L617.4,2118.5 L618.9,2118.5 L620.4,2118.4 L621.9,2118.4 L623.4,2118.4 L624.9,2118.3 L626.4,2118.3 L627.9,2118.2 L629.4,2118.2 L630.9,2118.2 L632.4,2118.1 L633.9,2118.1 L635.4,2118.1 L636.9,2118.0 L638.4,2118.0 L639.9,2117.9 L641.4,2117.9 L642.9,2117.8 L644.4,2117.8 L645.9,2117.8 L647.4,2117.7 L648.9,2117.7 L650.4,2117.6 L651.9,2117.6 L653.4,2117.5 L654.9,2117.5 L656.4,2117.4 L657.9,2117.4 L659.4,2117.3 L660.9,2117.3 L662.4,2117.2 L663.9,2117.2 L665.4,2117.1 L666.9,2117.0 L668.4,2117.0 L669.9,2116.9 L671.4,2116.9 L672.9,2116.8 L674.4,2116.8 L675.9,2116.7 L677.4,2116.6 L678.9,2116.6 L680.4,2116.5 L681.9,2116.4 L683.4,2116.4 L684.9,2116.3 L686.4,2116.2 L687.9,2116.2 L689.4,2116.1 L690.9,2116.0 L692.4,2115.9 L693.9,2115.9 L695.4,2115.8 L696.9,2115.7 L698.4,2115.6 L699.9,2115.6 L701.4,2115.5 L702.9,2115.4 L704.4,2115.3 L705.9,2115.2 L707.4,2115.1 L708.9,2115.0 L710.4,2115.0 L711.9,2114.9 L713.4,2114.8 L714.9,2114.7 L716.4,2114.6 L717.9,2114.5 L719.4,2114.4 L720.9,2114.3 L722.4,2114.2 L723.9,2114.0 L725.4,2113.9 L726.9,2113.8 L728.4,2113.7 L729.9,2113.6 L731.4,2113.5 L732.9,2113.3 L734.4,2113.2 L735.9,2113.1 L737.4,2113.0 L738.9,2112.8 L740.4,2112.7 L741.9,2112.5 L743.4,2112.4 L744.9,2112.3 L746.4,2112.1 L747.9,2111.9 L749.4,2111.8 L750.9,2111.6 L752.4,2111.5 L753.9,2111.3 L755.4,2111.1 L756.9,2111.0 L758.4,2110.8 L759.9,2110.6 L761.4,2110.4 L762.9,2110.2 L764.4,2110.0 L765.9,2109.8 L767.4,2109.6 L768.9,2109.4 L770.4,2109.2 L771.9,2108.9 L773.4,2108.7 L774.9,2108.5 L776.4,2108.2 L777.9,2108.0 L779.4,2107.7 L780.9,2107.5 L782.4,2107.2 L783.9,2106.9 L785.4,2106.6 L786.9,2106.3 L788.4,2106.0 L789.9,2105.7 L791.4,2105.4 L792.9,2105.1 L794.4,2104.8 L795.9,2104.4 L797.4,2104.1 L798.9,2103.7 L800.4,2103.3 L801.9,2102.9 L803.4,2102.5 L804.9,2102.1 L806.4,2101.7 L807.9,2101.2 L809.4,2100.8 L810.9,2100.3 L812.4,2099.8 L813.9,2099.3 L815.4,2098.8 L816.9,2098.3 L818.4,2097.7 L819.9,2097.1 L821.4,2096.5 L822.9,2095.9 L824.4,2095.3 L825.9,2094.6 L827.4,2093.9 L828.9,2093.2 L830.4,2092.5 L831.9,2091.7 L833.4,2090.9 L834.9,2090.1 L836.4,2089.2 L837.9,2088.3 L839.4,2087.4 L840.9,2086.4 L842.4,2085.4 L843.9,2084.3 L845.4,2083.3 L846.9,2082.1 L848.4,2080.9 L849.9,2079.7 L851.4,2078.4 L852.9,2077.0 L854.4,2075.6 L855.9,2074.1 L857.4,2072.6 L858.9,2070.9 L860.4,2069.2 L861.9,2067.5 L863.4,2065.6 L864.9,2063.7 L866.4,2061.6 L867.9,2059.5 L869.4,2057.3 L870.9,2054.9 L872.4,2052.5 L873.9,2049.9 L875.4,2047.2 L876.9,2044.4 L878.4,2041.4 L879.9,2038.3 L881.4,2035.0 L882.9,2031.6 L884.4,2028.1 L885.9,2024.4 L887.4,2020.5 L888.9,2016.4 L890.4,2012.2 L891.9,2007.8 L893.4,2003.3 L894.9,1998.5 L896.4,1993.6 L897.9,1988.5 L899.4,1983.2 L900.9,1977.7 L902.4,1972.1 L903.9,1966.3 L905.4,1960.4 L906.9,1954.3 L908.4,1948.1 L909.9,1941.7 L911.4,1935.3 L912.9,1928.8 L914.4,1922.2 L915.9,1915.6 L917.4,1909.0 L918.9,1902.4 L920.4,1895.8 L921.9,1889.3 L923.4,1882.8 L924.9,1876.5 L926.4,1870.4 L927.9,1864.5 L929.4,1858.8 L930.9,1853.3 L932.4,1848.1 L933.9,1843.3 L935.4,1838.8 L936.9,1834.7 L938.4,1831.0 L939.9,1827.8 L941.4,1824.9 L942.9,1822.6 L944.4,1820.8 L945.9,1819.5 L947.4,1818.6 L948.9,1818.3 L950.4,1818.6 L951.9,1819.3 L953.4,1820.6 L954.9,1822.3 L956.4,1824.6 L957.9,1827.4 L959.4,1830.6 L960.9,1834.2 L962.4,1838.2 L963.9,1842.7 L965.4,1847.5 L966.9,1852.6 L968.4,1858.0 L969.9,1863.7 L971.4,1869.6 L972.9,1875.7 L974.4,1882.0 L975.9,1888.4 L977.4,1894.9 L978.9,1901.5 L980.4,1908.1 L981.9,1914.7 L983.4,1921.3 L984.9,1927.9 L986.4,1934.4 L987.9,1940.9 L989.4,1947.2 L990.9,1953.4 L992.4,1959.5 L993.9,1965.5 L995.4,1971.3 L996.9,1977.0 L998.4,1982.4 L999.9,1987.8 L1001.4,1992.9 L1002.9,1997.8 L1004.4,2002.6 L1005.9,2007.2 L1007.4,2011.6 L1008.9,2015.9 L1010.4,2020.0 L1011.9,2023.9 L1013.4,2027.6 L1014.9,2031.2 L1016.4,2034.6 L1017.9,2037.9 L1019.4,2041.0 L1020.9,2044.0 L1022.4,2046.8 L1023.9,2049.5 L1025.4,2052.1 L1026.9,2054.6 L1028.4,2057.0 L1029.9,2059.2 L1031.4,2061.4 L1032.9,2063.4 L1034.4,2065.4 L1035.9,2067.2 L1037.4,2069.0 L1038.9,2070.7 L1040.4,2072.4 L1041.9,2073.9 L1043.4,2075.4 L1044.9,2076.8 L1046.4,2078.2 L1047.9,2079.5 L1049.4,2080.8 L1050.9,2082.0 L1052.4,2083.1 L1053.9,2084.2 L1055.4,2085.3 L1056.9,2086.3 L1058.4,2087.3 L1059.9,2088.2 L1061.4,2089.1 L1062.9,2090.0 L1064.4,2090.8 L1065.9,2091.6 L1067.4,2092.4 L1068.9,2093.1 L1070.4,2093.8 L1071.9,2094.5 L1073.4,2095.2 L1074.9,2095.8 L1076.4,2096.4 L1077.9,2097.0 L1079.4,2097.6 L1080.9,2098.2 L1082.4,2098.7 L1083.9,2099.2 L1085.4,2099.7 L1086.9,2100.2 L1088.4,2100.7 L1089.9,2101.2 L1091.4,2101.6 L1092.9,2102.0 L1094.4,2102.5 L1095.9,2102.9 L1097.4,2103.3 L1098.9,2103.6 L1100.4,2104.0"/>
<path d="M821.4,2119.8 L822.9,2119.8 L824.4,2119.7 L825.9,2119.7 L827.4,2119.7 L828.9,2119.7 L830.4,2119.6 L831.9,2119.6 L833.4,2119.6 L834.9,2119.5 L836.4,2119.5 L837.9,2119.4 L839.4,2119.4 L840.9,2119.4 L842.4,2119.3 L843.9,2119.3 L845.4,2119.3 L846.9,2119.2 L848.4,2119.2 L849.9,2119.1 L851.4,2119.1 L852.9,2119.0 L854.4,2119.0 L855.9,2118.9 L857.4,2118.9 L858.9,2118.8 L860.4,2118.8 L861.9,2118.7 L863.4,2118.7 L864.9,2118.6 L866.4,2118.6 L867.9,2118.5 L869.4,2118.5 L870.9,2118.4 L872.4,2118.4 L873.9,2118.3 L875.4,2118.2 L876.9,2118.2 L878.4,2118.1 L879.9,2118.0 L881.4,2118.0 L882.9,2117.9 L884.4,2117.8 L885.9,2117.8 L887.4,2117.7 L888.9,2117.6 L890.4,2117.5 L891.9,2117.4 L893.4,2117.4 L894.9,2117.3 L896.4,2117.2 L897.9,2117.1 L899.4,2117.0 L900.9,2116.9 L902.4,2116.8 L903.9,2116.7 L905.4,2116.6 L906.9,2116.5 L908.4,2116.4 L909.9,2116.3 L911.4,2116.1 L912.9,2116.0 L914.4,2115.9 L915.9,2115.8 L917.4,2115.6 L918.9,2115.5 L920.4,2115.4 L921.9,2115.2 L923.4,2115.1 L924.9,2114.9 L926.4,2114.8 L927.9,2114.6 L929.4,2114.4 L930.9,2114.2 L932.4,2114.1 L933.9,2113.9 L935.4,2113.7 L936.9,2113.5 L938.4,2113.3 L939.9,2113.0 L941.4,2112.8 L942.9,2112.6 L944.4,2112.3 L945.9,2112.1 L947.4,2111.8 L948.9,2111.5 L950.4,2111.2 L951.9,2110.9 L953.4,2110.6 L954.9,2110.3 L956.4,2110.0 L957.9,2109.6 L959.4,2109.2 L960.9,2108.8 L962.4,2108.4 L963.9,2108.0 L965.4,2107.6 L966.9,2107.1 L968.4,2106.6 L969.9,2106.1 L971.4,2105.5 L972.9,2105.0 L974.4,2104.4 L975.9,2103.8 L977.4,2103.1 L978.9,2102.4 L980.4,2101.7 L981.9,2100.9 L983.4,2100.1 L984.9,2099.3 L986.4,2098.4 L987.9,2097.4 L989.4,2096.4 L990.9,2095.4 L992.4,2094.3 L993.9,2093.1 L995.4,2091.9 L996.9,2090.6 L998.4,2089.3 L999.9,2087.9 L1001.4,2086.4 L1002.9,2084.8 L1004.4,2083.2 L1005.9,2081.5 L1007.4,2079.7 L1008.9,2077.8 L1010.4,2075.8 L1011.9,2073.7 L1013.4,2071.6 L1014.9,2069.4 L1016.4,2067.0 L1017.9,2064.6 L1019.4,2062.1 L1020.9,2059.5 L1022.4,2056.8 L1023.9,2054.1 L1025.4,2051.2 L1026.9,2048.3 L1028.4,2045.3 L1029.9,2042.2 L1031.4,2039.1 L1032.9,2035.8 L1034.4,2032.6 L1035.9,2029.3 L1037.4,2025.9 L1038.9,2022.6 L1040.4,2019.2 L1041.9,2015.8 L1043.4,2012.4 L1044.9,2009.0 L1046.4,2005.6 L1047.9,2002.3 L1049.4,1999.0 L1050.9,1995.8 L1052.4,1992.7 L1053.9,1989.6 L1055.4,1986.7 L1056.9,1983.9 L1058.4,1981.2 L1059.9,1978.7 L1061.4,1976.3 L1062.9,1974.1 L1064.4,1972.0 L1065.9,1970.2 L1067.4,1968.6 L1068.9,1967.1 L1070.4,1965.9 L1071.9,1964.9 L1073.4,1964.2 L1074.9,1963.6 L1076.4,1963.3 L1077.9,1963.3 L1079.4,1963.5 L1080.9,1963.9 L1082.4,1964.5 L1083.9,1965.4 L1085.4,1966.5 L1086.9,1967.9 L1088.4,1969.4 L1089.9,1971.2 L1091.4,1973.1 L1092.9,1975.2 L1094.4,1977.5 L1095.9,1980.0 L1097.4,1982.6 L1098.9,1985.4 L1100.4,1988.3"/>
<path d="M900.9,2118.7 L902.4,2118.6 L903.9,2118.6 L905.4,2118.5 L906.9,2118.5 L908.4,2118.4 L909.9,2118.4 L911.4,2118.3 L912.9,2118.3 L914.4,2118.2 L915.9,2118.2 L917.4,2118.1 L918.9,2118.1 L920.4,2118.0 L921.9,2118.0 L923.4,2117.9 L924.9,2117.9 L926.4,2117.8 L927.9,2117.7 L929.4,2117.7 L930.9,2117.6 L932.4,2117.6 L933.9,2117.5 L935.4,2117.4 L936.9,2117.4 L938.4,2117.3 L939.9,2117.2 L941.4,2117.2 L942.9,2117.1 L944.4,2117.0 L945.9,2116.9 L947.4,2116.9 L948.9,2116.8 L950.4,2116.7 L951.9,2116.6 L953.4,2116.5 L954.9,2116.5 L956.4,2116.4 L957.9,2116.3 L959.4,2116.2 L960.9,2116.1 L962.4,2116.0 L963.9,2115.9 L965.4,2115.8 L966.9,2115.7 L968.4,2115.6 L969.9,2115.5 L971.4,2115.4 L972.9,2115.3 L974.4,2115.1 L975.9,2115.0 L977.4,2114.9 L978.9,2114.8 L980.4,2114.7 L981.9,2114.5 L983.4,2114.4 L984.9,2114.3 L986.4,2114.1 L987.9,2114.0 L989.4,2113.8 L990.9,2113.7 L992.4,2113.5 L993.9,2113.4 L995.4,2113.2 L996.9,2113.0 L998.4,2112.9 L999.9,2112.7 L1001.4,2112.5 L1002.9,2112.3 L1004.4,2112.1 L1005.9,2111.9 L1007.4,2111.7 L1008.9,2111.5 L1010.4,2111.3 L1011.9,2111.1 L1013.4,2110.8 L1014.9,2110.6 L1016.4,2110.4 L1017.9,2110.1 L1019.4,2109.9 L1020.9,2109.6 L1022.4,2109.3 L1023.9,2109.0 L1025.4,2108.7 L1026.9,2108.4 L1028.4,2108.1 L1029.9,2107.8 L1031.4,2107.5 L1032.9,2107.1 L1034.4,2106.8 L1035.9,2106.4 L1037.4,2106.0 L1038.9,2105.6 L1040.4,2105.2 L1041.9,2104.8 L1043.4,2104.4 L1044.9,2103.9 L1046.4,2103.4 L1047.9,2102.9 L1049.4,2102.4 L1050.9,2101.9 L1052.4,2101.4 L1053.9,2100.8 L1055.4,2100.2 L1056.9,2099.6 L1058.4,2099.0 L1059.9,2098.3 L1061.4,2097.6 L1062.9,2096.9 L1064.4,2096.1 L1065.9,2095.3 L1067.4,2094.5 L1068.9,2093.7 L1070.4,2092.8 L1071.9,2091.9 L1073.4,2090.9 L1074.9,2089.9 L1076.4,2088.8 L1077.9,2087.7 L1079.4,2086.5 L1080.9,2085.3 L1082.4,2084.1 L1083.9,2082.7 L1085.4,2081.3 L1086.9,2079.9 L1088.4,2078.3 L1089.9,2076.7 L1091.4,2075.0 L1092.9,2073.3 L1094.4,2071.4 L1095.9,2069.5 L1097.4,2067.4 L1098.9,2065.2 L1100.4,2063.0"/>
</g>
<line x1="996.3" y1="892.5" x2="980.3" y2="748.4" stroke="#0e0f0e" stroke-width="6.4"/>
<polygon points="978.8,735.0 988.7,752.0 980.3,748.4 972.8,753.8"/>
<line x1="1051.3" y1="2303.9" x2="1084.1" y2="1988.4" stroke="#0e0f0e" stroke-width="5.9"/>
<polygon points="1085.8,1972.0 1093.5,1989.4 1084.1,1988.4 1074.6,1987.4"/>
<line x1="1139.4" y1="2303.9" x2="1106.1" y2="2093.6" stroke="#0e0f0e" stroke-width="5.9"/>
<polygon points="1103.4,2076.3 1115.5,2092.1 1106.1,2093.6 1096.8,2095.1"/>
<text x="283.3" y="179.7" font-size="74.5" text-anchor="end" font-weight="normal" font-style="normal" textLength="145.4" lengthAdjust="spacingAndGlyphs" stroke="#0e0f0e" stroke-width="0.7" stroke-linejoin="round">1500</text>
<text x="283.3" y="381.0" font-size="74.5" text-anchor="end" font-weight="normal" font-style="normal" textLength="145.4" lengthAdjust="spacingAndGlyphs" stroke="#0e0f0e" stroke-width="0.7" stroke-linejoin="round">1000</text>
<text x="283.3" y="582.5" font-size="74.5" text-anchor="end" font-weight="normal" font-style="normal" textLength="109.1" lengthAdjust="spacingAndGlyphs" stroke="#0e0f0e" stroke-width="0.7" stroke-linejoin="round">500</text>
<text x="283.3" y="783.8" font-size="74.5" text-anchor="end" font-weight="normal" font-style="normal" textLength="36.4" lengthAdjust="spacingAndGlyphs" stroke="#0e0f0e" stroke-width="0.7" stroke-linejoin="round">0</text>
<text x="283.3" y="985.3" font-size="74.5" text-anchor="end" font-weight="normal" font-style="normal" textLength="133.3" lengthAdjust="spacingAndGlyphs" stroke="#0e0f0e" stroke-width="0.7" stroke-linejoin="round">-500</text>
<text x="304.2" y="1539.5" font-size="74.5" text-anchor="end" font-weight="normal" font-style="normal" textLength="145.4" lengthAdjust="spacingAndGlyphs" stroke="#0e0f0e" stroke-width="0.7" stroke-linejoin="round">1500</text>
<text x="304.2" y="1740.3" font-size="74.5" text-anchor="end" font-weight="normal" font-style="normal" textLength="145.4" lengthAdjust="spacingAndGlyphs" stroke="#0e0f0e" stroke-width="0.7" stroke-linejoin="round">1000</text>
<text x="304.2" y="1942.2" font-size="74.5" text-anchor="end" font-weight="normal" font-style="normal" textLength="109.1" lengthAdjust="spacingAndGlyphs" stroke="#0e0f0e" stroke-width="0.7" stroke-linejoin="round">500</text>
<text x="304.2" y="2142.5" font-size="74.5" text-anchor="end" font-weight="normal" font-style="normal" textLength="36.4" lengthAdjust="spacingAndGlyphs" stroke="#0e0f0e" stroke-width="0.7" stroke-linejoin="round">0</text>
<text x="304.2" y="2344.4" font-size="74.5" text-anchor="end" font-weight="normal" font-style="normal" textLength="133.3" lengthAdjust="spacingAndGlyphs" stroke="#0e0f0e" stroke-width="0.7" stroke-linejoin="round">-500</text>
<text x="471.5" y="1167" font-size="76" text-anchor="middle" font-weight="normal" font-style="normal" textLength="36.6" lengthAdjust="spacingAndGlyphs" stroke="#0e0f0e" stroke-width="0.7" stroke-linejoin="round">6</text>
<text x="777.2" y="1167" font-size="76" text-anchor="middle" font-weight="normal" font-style="normal" textLength="36.6" lengthAdjust="spacingAndGlyphs" stroke="#0e0f0e" stroke-width="0.7" stroke-linejoin="round">7</text>
<text x="1082.8" y="1167" font-size="76" text-anchor="middle" font-weight="normal" font-style="normal" textLength="36.6" lengthAdjust="spacingAndGlyphs" stroke="#0e0f0e" stroke-width="0.7" stroke-linejoin="round">8</text>
<text x="1388.5" y="1167" font-size="76" text-anchor="middle" font-weight="normal" font-style="normal" textLength="36.6" lengthAdjust="spacingAndGlyphs" stroke="#0e0f0e" stroke-width="0.7" stroke-linejoin="round">9</text>
<text x="491.5" y="2525" font-size="76" text-anchor="middle" font-weight="normal" font-style="normal" textLength="36.6" lengthAdjust="spacingAndGlyphs" stroke="#0e0f0e" stroke-width="0.7" stroke-linejoin="round">6</text>
<text x="797" y="2525" font-size="76" text-anchor="middle" font-weight="normal" font-style="normal" textLength="36.6" lengthAdjust="spacingAndGlyphs" stroke="#0e0f0e" stroke-width="0.7" stroke-linejoin="round">7</text>
<text x="1102.6" y="2525" font-size="76" text-anchor="middle" font-weight="normal" font-style="normal" textLength="36.6" lengthAdjust="spacingAndGlyphs" stroke="#0e0f0e" stroke-width="0.7" stroke-linejoin="round">8</text>
<text x="1408.4" y="2525" font-size="76" text-anchor="middle" font-weight="normal" font-style="normal" textLength="36.6" lengthAdjust="spacingAndGlyphs" stroke="#0e0f0e" stroke-width="0.7" stroke-linejoin="round">9</text>
<text x="561.4" y="1286" font-size="82" text-anchor="start" font-weight="normal" font-style="normal" textLength="460" lengthAdjust="spacingAndGlyphs" stroke="#0e0f0e" stroke-width="0.7" stroke-linejoin="round">X-ray energy</text>
<text x="1046.4" y="1286" font-size="82" text-anchor="start" font-weight="normal" font-style="normal" textLength="200.5" lengthAdjust="spacingAndGlyphs" stroke="#0e0f0e" stroke-width="0.7" stroke-linejoin="round">(keV)</text>
<text x="581.4" y="2646" font-size="82" text-anchor="start" font-weight="normal" font-style="normal" textLength="460" lengthAdjust="spacingAndGlyphs" stroke="#0e0f0e" stroke-width="0.7" stroke-linejoin="round">X-ray energy</text>
<text x="1066.2" y="2646" font-size="82" text-anchor="start" font-weight="normal" font-style="normal" textLength="200.5" lengthAdjust="spacingAndGlyphs" stroke="#0e0f0e" stroke-width="0.7" stroke-linejoin="round">(keV)</text>
<text transform="translate(90.2,820.8) rotate(-90)" font-size="89" textLength="503" lengthAdjust="spacingAndGlyphs" stroke="#0e0f0e" stroke-width="0.7">Counts/ 60 eV</text>
<text transform="translate(109.2,2180.8) rotate(-90)" font-size="89" textLength="503" lengthAdjust="spacingAndGlyphs" stroke="#0e0f0e" stroke-width="0.7">Counts/ 60 eV</text>
<text x="579" y="120" font-size="84" text-anchor="start" font-weight="bold" font-style="normal" textLength="37" lengthAdjust="spacingAndGlyphs">ε</text>
<text x="615.4" y="141.8" font-size="61" text-anchor="start" font-weight="bold" font-style="normal">1s</text>
<text x="687.2" y="126.6" font-size="82" text-anchor="start" font-weight="bold" font-style="normal" stroke="#0e0f0e" stroke-width="1.6" stroke-linejoin="round">=</text>
<text x="755" y="120" font-size="82" text-anchor="start" font-weight="bold" font-style="normal" textLength="146" lengthAdjust="spacingAndGlyphs">-204</text>
<text x="921.1999999999999" y="119.5" font-size="78" text-anchor="start" font-weight="bold" font-style="normal" textLength="47.9" lengthAdjust="spacingAndGlyphs" stroke="#0e0f0e" stroke-width="1.6" stroke-linejoin="round">±</text>
<text x="989" y="120" font-size="82" text-anchor="start" font-weight="bold" font-style="normal" textLength="77" lengthAdjust="spacingAndGlyphs">43</text>
<text x="1089" y="120" font-size="82" text-anchor="start" font-weight="bold" font-style="normal" textLength="95" lengthAdjust="spacingAndGlyphs">eV</text>
<text x="578" y="225" font-size="84" text-anchor="start" font-weight="bold" font-style="normal" textLength="59" lengthAdjust="spacingAndGlyphs">Γ</text>
<text x="629.6" y="246.8" font-size="61" text-anchor="start" font-weight="bold" font-style="normal">1s</text>
<text x="701.4" y="231.6" font-size="82" text-anchor="start" font-weight="bold" font-style="normal" stroke="#0e0f0e" stroke-width="1.6" stroke-linejoin="round">=</text>
<text x="769" y="225" font-size="82" text-anchor="start" font-weight="bold" font-style="normal" textLength="120" lengthAdjust="spacingAndGlyphs">282</text>
<text x="908.8" y="224.5" font-size="78" text-anchor="start" font-weight="bold" font-style="normal" textLength="47.9" lengthAdjust="spacingAndGlyphs" stroke="#0e0f0e" stroke-width="1.6" stroke-linejoin="round">±</text>
<text x="976" y="225" font-size="82" text-anchor="start" font-weight="bold" font-style="normal" textLength="118" lengthAdjust="spacingAndGlyphs">112</text>
<text x="1116" y="225" font-size="82" text-anchor="start" font-weight="bold" font-style="normal" textLength="93" lengthAdjust="spacingAndGlyphs">eV</text>
<text x="634" y="1479" font-size="84" text-anchor="start" font-weight="bold" font-style="normal" textLength="37" lengthAdjust="spacingAndGlyphs">ε</text>
<text x="670.9" y="1500.8" font-size="61" text-anchor="start" font-weight="bold" font-style="normal">1s</text>
<text x="741" y="1485.6" font-size="82" text-anchor="start" font-weight="bold" font-style="normal" stroke="#0e0f0e" stroke-width="1.6" stroke-linejoin="round">=</text>
<text x="810.5" y="1479" font-size="82" text-anchor="start" font-weight="bold" font-style="normal" textLength="145.5" lengthAdjust="spacingAndGlyphs">-184</text>
<text x="975.8" y="1478.5" font-size="78" text-anchor="start" font-weight="bold" font-style="normal" textLength="47.9" lengthAdjust="spacingAndGlyphs" stroke="#0e0f0e" stroke-width="1.6" stroke-linejoin="round">±</text>
<text x="1043" y="1479" font-size="82" text-anchor="start" font-weight="bold" font-style="normal" textLength="77" lengthAdjust="spacingAndGlyphs">37</text>
<text x="1144" y="1479" font-size="82" text-anchor="start" font-weight="bold" font-style="normal" textLength="93" lengthAdjust="spacingAndGlyphs">eV</text>
<text x="633" y="1584" font-size="84" text-anchor="start" font-weight="bold" font-style="normal" textLength="58" lengthAdjust="spacingAndGlyphs">Γ</text>
<text x="683.9" y="1605.8" font-size="61" text-anchor="start" font-weight="bold" font-style="normal">1s</text>
<text x="755.5" y="1590.6" font-size="82" text-anchor="start" font-weight="bold" font-style="normal" stroke="#0e0f0e" stroke-width="1.6" stroke-linejoin="round">=</text>
<text x="824" y="1584" font-size="82" text-anchor="start" font-weight="bold" font-style="normal" textLength="121" lengthAdjust="spacingAndGlyphs">216</text>
<text x="964.3" y="1583.5" font-size="78" text-anchor="start" font-weight="bold" font-style="normal" textLength="47.9" lengthAdjust="spacingAndGlyphs" stroke="#0e0f0e" stroke-width="1.6" stroke-linejoin="round">±</text>
<text x="1030" y="1584" font-size="82" text-anchor="start" font-weight="bold" font-style="normal" textLength="119" lengthAdjust="spacingAndGlyphs">112</text>
<text x="1171" y="1584" font-size="82" text-anchor="start" font-weight="bold" font-style="normal" textLength="92" lengthAdjust="spacingAndGlyphs">eV</text>
<text x="1440.5" y="135.8" font-size="78" text-anchor="start" font-weight="bold" font-style="normal" textLength="67.4" lengthAdjust="spacingAndGlyphs">a)</text>
<text x="1460.6" y="1491.2" font-size="74" text-anchor="start" font-weight="bold" font-style="normal" textLength="67.5" lengthAdjust="spacingAndGlyphs">b)</text>
<text x="422" y="431" font-size="78" text-anchor="start" font-weight="bold" font-style="normal" textLength="57" lengthAdjust="spacingAndGlyphs">K</text>
<text x="477.6" y="449.3" font-size="58" text-anchor="start" font-weight="bold" font-style="italic">α</text>
<text x="767.6" y="413.7" font-size="78" text-anchor="start" font-weight="bold" font-style="normal" textLength="57" lengthAdjust="spacingAndGlyphs">K</text>
<text x="822.5" y="432.3" font-size="53" text-anchor="start" font-weight="normal" font-style="normal" stroke="#0e0f0e" stroke-width="1.5" stroke-linejoin="round">β</text>
<text x="984.8" y="958.9" font-size="78" text-anchor="start" font-weight="bold" font-style="normal" textLength="57" lengthAdjust="spacingAndGlyphs">K</text>
<text x="1040" y="977.8" font-size="55.5" text-anchor="start" font-weight="bold" font-style="italic">γ</text>
<text x="423.9" y="1737.2" font-size="78" text-anchor="start" font-weight="bold" font-style="normal" textLength="57" lengthAdjust="spacingAndGlyphs">K</text>
<text x="480.5" y="1756.2" font-size="58" text-anchor="start" font-weight="bold" font-style="italic">α</text>
<text x="786.5" y="1736.5" font-size="78" text-anchor="start" font-weight="bold" font-style="normal" textLength="57" lengthAdjust="spacingAndGlyphs">K</text>
<text x="842" y="1756.5" font-size="53" text-anchor="start" font-weight="normal" font-style="normal" stroke="#0e0f0e" stroke-width="1.5" stroke-linejoin="round">β</text>
<text x="1005.3" y="2363.9" font-size="78" text-anchor="start" font-weight="bold" font-style="normal" textLength="57" lengthAdjust="spacingAndGlyphs">K</text>
<text x="1061" y="2381.5" font-size="53" text-anchor="start" font-weight="bold" font-style="italic">γ</text>
<text x="1140.3" y="2363.9" font-size="78" text-anchor="start" font-weight="bold" font-style="normal" textLength="57" lengthAdjust="spacingAndGlyphs">K</text>
<text x="1196.5" y="2382" font-size="49" text-anchor="start" font-weight="bold" font-style="normal">high</text>
</g></svg></body></html>
